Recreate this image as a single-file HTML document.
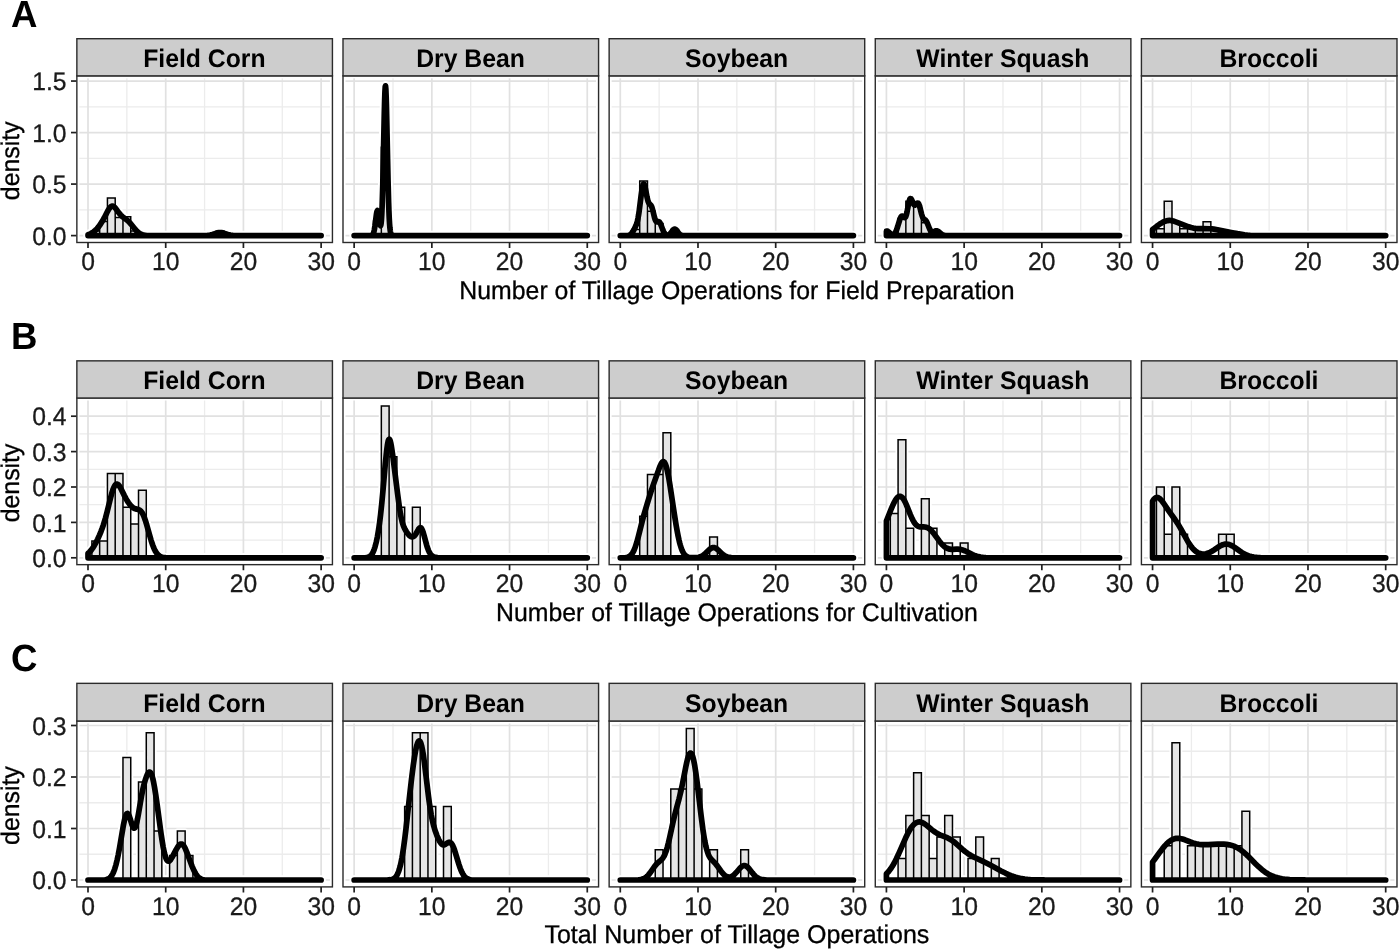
<!DOCTYPE html>
<html lang="en">
<head>
<meta charset="utf-8">
<title>Tillage operations density by crop</title>
<style>
html,body{margin:0;padding:0;background:#fff;}
body{width:1400px;height:950px;overflow:hidden;font-family:'Liberation Sans', Arial, Helvetica, sans-serif;}
svg{display:block;}
</style>
</head>
<body>
<svg width="1400" height="950" viewBox="0 0 1400 950" role="img" aria-label="Density of tillage operations by crop" font-family="'Liberation Sans', Arial, Helvetica, sans-serif" text-rendering="geometricPrecision">
<rect width="1400" height="950" fill="#ffffff"/>
<g id="rowA">
<text transform="translate(11.1 26.8) scale(1 1.035)" font-size="36.6" font-weight="bold" fill="#000">A</text>
<text transform="translate(18.9 160.78) rotate(-90) scale(1 1.025)" text-anchor="middle" font-size="24.85" fill="#000" stroke="#000" stroke-width="0.3">density</text>
<text transform="translate(66.6 244.7) scale(1 1.025)" text-anchor="end" font-size="24.7" fill="#1a1a1a" stroke="#1a1a1a" stroke-width="0.3">0.0</text>
<line x1="71" x2="76.86" y1="235.6" y2="235.6" stroke="#1f1f1f" stroke-width="1.7"/>
<text transform="translate(66.6 193.18) scale(1 1.025)" text-anchor="end" font-size="24.7" fill="#1a1a1a" stroke="#1a1a1a" stroke-width="0.3">0.5</text>
<line x1="71" x2="76.86" y1="184.08" y2="184.08" stroke="#1f1f1f" stroke-width="1.7"/>
<text transform="translate(66.6 141.67) scale(1 1.025)" text-anchor="end" font-size="24.7" fill="#1a1a1a" stroke="#1a1a1a" stroke-width="0.3">1.0</text>
<line x1="71" x2="76.86" y1="132.57" y2="132.57" stroke="#1f1f1f" stroke-width="1.7"/>
<text transform="translate(66.6 90.15) scale(1 1.025)" text-anchor="end" font-size="24.7" fill="#1a1a1a" stroke="#1a1a1a" stroke-width="0.3">1.5</text>
<line x1="71" x2="76.86" y1="81.05" y2="81.05" stroke="#1f1f1f" stroke-width="1.7"/>
<text transform="translate(736.9 298.76) scale(1 1.025)" text-anchor="middle" font-size="24.85" fill="#000" stroke="#000" stroke-width="0.3">Number of Tillage Operations for Field Preparation</text>
<g>
<clipPath id="cp00"><rect x="76.86" y="75.85" width="255.57" height="166.65"/></clipPath>
<rect x="76.86" y="75.85" width="255.57" height="166.65" fill="#fff"/>
<path d="M126.85 75.85V242.5M204.56 75.85V242.5M282.27 75.85V242.5M76.86 209.84H332.43M76.86 158.33H332.43M76.86 106.81H332.43" stroke="#ececec" stroke-width="1.3" fill="none"/>
<path d="M88 75.85V242.5M165.71 75.85V242.5M243.42 75.85V242.5M321.13 75.85V242.5M76.86 235.6H332.43M76.86 184.08H332.43M76.86 132.57H332.43M76.86 81.05H332.43" stroke="#e1e1e1" stroke-width="1.7" fill="none"/>
<rect x="76.86" y="75.85" width="255.57" height="166.65" fill="none" stroke="#fff" stroke-width="5" clip-path="url(#cp00)"/>
<g clip-path="url(#cp00)" fill="none" stroke="#fff" stroke-linejoin="round"><path d="M91.89 235.6V230.92H99.66V235.6ZM99.66 235.6V221.55H107.43V235.6ZM107.43 235.6V197.95H115.2V235.6ZM115.2 235.6V217.47H122.97V235.6ZM122.97 235.6V216.75H130.74V235.6ZM130.74 235.6V230.92H138.51V235.6ZM216.22 235.6V230.92H223.99V235.6Z" stroke-width="5.1"/><path d="M88 235.6L88 234.63L89.55 234.1L90.8 233.54L92.04 232.85L93.28 232.03L94.53 231.06L95.77 229.94L97.01 228.66L98.26 227.22L100.43 224.28L102.3 221.32L104.16 217.94L107.58 211.26L109.14 208.64L110.07 207.43L110.69 206.83L111.31 206.4L111.62 206.26L112.25 206.12L112.87 206.17L113.49 206.41L114.11 206.82L114.73 207.38L115.98 208.84L119.08 213.14L120.64 214.96L122.19 216.42L126.54 219.67L128.72 221.62L130.9 224L135.56 229.72L136.8 231.08L137.73 231.97L139.29 233.21L140.84 234.12L141.78 234.52L142.71 234.82L144.57 235.21L146.13 235.38L148.3 235.5L157.01 235.6L201.15 235.6L204.88 235.52L207.67 235.34L210.16 234.96L212.34 234.41L217.31 232.85L218.86 232.56L220.11 232.48L221.35 232.56L222.9 232.85L227.88 234.41L230.36 235.02L232.85 235.37L235.65 235.53L239.07 235.6L321.13 235.6Z" stroke-width="9.5"/></g>
<path d="M91.89 235.6V230.92H99.66V235.6ZM99.66 235.6V221.55H107.43V235.6ZM107.43 235.6V197.95H115.2V235.6ZM115.2 235.6V217.47H122.97V235.6ZM122.97 235.6V216.75H130.74V235.6ZM130.74 235.6V230.92H138.51V235.6ZM216.22 235.6V230.92H223.99V235.6Z" fill="#e5e5e5" stroke="#000" stroke-width="1.5" stroke-linejoin="miter"/>
<path d="M88 235.6L88 234.63L89.55 234.1L90.8 233.54L92.04 232.85L93.28 232.03L94.53 231.06L95.77 229.94L97.01 228.66L98.26 227.22L100.43 224.28L102.3 221.32L104.16 217.94L107.58 211.26L109.14 208.64L110.07 207.43L110.69 206.83L111.31 206.4L111.62 206.26L112.25 206.12L112.87 206.17L113.49 206.41L114.11 206.82L114.73 207.38L115.98 208.84L119.08 213.14L120.64 214.96L122.19 216.42L126.54 219.67L128.72 221.62L130.9 224L135.56 229.72L136.8 231.08L137.73 231.97L139.29 233.21L140.84 234.12L141.78 234.52L142.71 234.82L144.57 235.21L146.13 235.38L148.3 235.5L157.01 235.6L201.15 235.6L204.88 235.52L207.67 235.34L210.16 234.96L212.34 234.41L217.31 232.85L218.86 232.56L220.11 232.48L221.35 232.56L222.9 232.85L227.88 234.41L230.36 235.02L232.85 235.37L235.65 235.53L239.07 235.6L321.13 235.6Z" fill="none" stroke="#000" stroke-width="5.7" stroke-linejoin="round" stroke-linecap="round"/>
<rect x="76.86" y="75.85" width="255.57" height="166.65" fill="none" stroke="#2b2b2b" stroke-width="1.4"/>
<rect x="76.86" y="38.7" width="255.57" height="37.15" fill="#cdcdcd" stroke="#2b2b2b" stroke-width="1.4"/>
<text transform="translate(204.34 67.1) scale(1 1.025)" text-anchor="middle" font-size="24.75" font-weight="bold" fill="#000">Field Corn</text>
<text transform="translate(88 270.2) scale(1 1.025)" text-anchor="middle" font-size="24.7" fill="#1a1a1a" stroke="#1a1a1a" stroke-width="0.3">0</text>
<text transform="translate(165.71 270.2) scale(1 1.025)" text-anchor="middle" font-size="24.7" fill="#1a1a1a" stroke="#1a1a1a" stroke-width="0.3">10</text>
<text transform="translate(243.42 270.2) scale(1 1.025)" text-anchor="middle" font-size="24.7" fill="#1a1a1a" stroke="#1a1a1a" stroke-width="0.3">20</text>
<text transform="translate(321.13 270.2) scale(1 1.025)" text-anchor="middle" font-size="24.7" fill="#1a1a1a" stroke="#1a1a1a" stroke-width="0.3">30</text>
<path d="M88 242.5V248.1M165.71 242.5V248.1M243.42 242.5V248.1M321.13 242.5V248.1" stroke="#1f1f1f" stroke-width="1.7" fill="none"/>
</g>
<g>
<clipPath id="cp01"><rect x="343" y="75.85" width="255.57" height="166.65"/></clipPath>
<rect x="343" y="75.85" width="255.57" height="166.65" fill="#fff"/>
<path d="M393 75.85V242.5M470.7 75.85V242.5M548.41 75.85V242.5M343 209.84H598.57M343 158.33H598.57M343 106.81H598.57" stroke="#ececec" stroke-width="1.3" fill="none"/>
<path d="M354.14 75.85V242.5M431.85 75.85V242.5M509.56 75.85V242.5M587.27 75.85V242.5M343 235.6H598.57M343 184.08H598.57M343 132.57H598.57M343 81.05H598.57" stroke="#e1e1e1" stroke-width="1.7" fill="none"/>
<rect x="343" y="75.85" width="255.57" height="166.65" fill="none" stroke="#fff" stroke-width="5" clip-path="url(#cp01)"/>
<g clip-path="url(#cp01)" fill="none" stroke="#fff" stroke-linejoin="round"><path d="M373.57 235.6V220.88H381.34V235.6ZM381.34 235.6V147.29H389.11V235.6Z" stroke-width="5.1"/><path d="M354.14 235.6L369.99 235.6L371.55 235.47L372.17 235.22L372.48 234.99L372.79 234.64L373.1 234.14L373.41 233.44L374.03 231.27L374.34 229.73L374.97 225.71L376.52 213.67L376.83 212.02L377.14 210.97L377.45 210.6L377.76 210.95L378.07 211.98L378.39 213.58L379.63 222.39L379.94 224.15L380.25 225.3L380.56 225.61L380.87 224.86L381.18 222.81L381.49 219.21L381.8 213.85L382.12 206.53L382.74 185.77L384.29 113.29L384.6 101.22L384.91 92.18L385.22 86.89L385.53 85.81L385.85 89.03L386.16 96.28L386.47 106.95L388.02 179.67L388.64 202.87L388.95 211.63L389.26 218.55L389.58 223.81L389.89 227.69L390.2 230.44L390.51 232.33L390.82 233.59L391.13 234.4L391.44 234.9L391.75 235.21L392.37 235.48L393.62 235.6L587.27 235.6Z" stroke-width="9.5"/></g>
<path d="M373.57 235.6V220.88H381.34V235.6ZM381.34 235.6V147.29H389.11V235.6Z" fill="#e5e5e5" stroke="#000" stroke-width="1.5" stroke-linejoin="miter"/>
<path d="M354.14 235.6L369.99 235.6L371.55 235.47L372.17 235.22L372.48 234.99L372.79 234.64L373.1 234.14L373.41 233.44L374.03 231.27L374.34 229.73L374.97 225.71L376.52 213.67L376.83 212.02L377.14 210.97L377.45 210.6L377.76 210.95L378.07 211.98L378.39 213.58L379.63 222.39L379.94 224.15L380.25 225.3L380.56 225.61L380.87 224.86L381.18 222.81L381.49 219.21L381.8 213.85L382.12 206.53L382.74 185.77L384.29 113.29L384.6 101.22L384.91 92.18L385.22 86.89L385.53 85.81L385.85 89.03L386.16 96.28L386.47 106.95L388.02 179.67L388.64 202.87L388.95 211.63L389.26 218.55L389.58 223.81L389.89 227.69L390.2 230.44L390.51 232.33L390.82 233.59L391.13 234.4L391.44 234.9L391.75 235.21L392.37 235.48L393.62 235.6L587.27 235.6Z" fill="none" stroke="#000" stroke-width="5.7" stroke-linejoin="round" stroke-linecap="round"/>
<rect x="343" y="75.85" width="255.57" height="166.65" fill="none" stroke="#2b2b2b" stroke-width="1.4"/>
<rect x="343" y="38.7" width="255.57" height="37.15" fill="#cdcdcd" stroke="#2b2b2b" stroke-width="1.4"/>
<text transform="translate(470.48 67.1) scale(1 1.025)" text-anchor="middle" font-size="24.75" font-weight="bold" fill="#000">Dry Bean</text>
<text transform="translate(354.14 270.2) scale(1 1.025)" text-anchor="middle" font-size="24.7" fill="#1a1a1a" stroke="#1a1a1a" stroke-width="0.3">0</text>
<text transform="translate(431.85 270.2) scale(1 1.025)" text-anchor="middle" font-size="24.7" fill="#1a1a1a" stroke="#1a1a1a" stroke-width="0.3">10</text>
<text transform="translate(509.56 270.2) scale(1 1.025)" text-anchor="middle" font-size="24.7" fill="#1a1a1a" stroke="#1a1a1a" stroke-width="0.3">20</text>
<text transform="translate(587.27 270.2) scale(1 1.025)" text-anchor="middle" font-size="24.7" fill="#1a1a1a" stroke="#1a1a1a" stroke-width="0.3">30</text>
<path d="M354.14 242.5V248.1M431.85 242.5V248.1M509.56 242.5V248.1M587.27 242.5V248.1" stroke="#1f1f1f" stroke-width="1.7" fill="none"/>
</g>
<g>
<clipPath id="cp02"><rect x="609.14" y="75.85" width="255.57" height="166.65"/></clipPath>
<rect x="609.14" y="75.85" width="255.57" height="166.65" fill="#fff"/>
<path d="M659.13 75.85V242.5M736.85 75.85V242.5M814.55 75.85V242.5M609.14 209.84H864.71M609.14 158.33H864.71M609.14 106.81H864.71" stroke="#ececec" stroke-width="1.3" fill="none"/>
<path d="M620.28 75.85V242.5M697.99 75.85V242.5M775.7 75.85V242.5M853.41 75.85V242.5M609.14 235.6H864.71M609.14 184.08H864.71M609.14 132.57H864.71M609.14 81.05H864.71" stroke="#e1e1e1" stroke-width="1.7" fill="none"/>
<rect x="609.14" y="75.85" width="255.57" height="166.65" fill="none" stroke="#fff" stroke-width="5" clip-path="url(#cp02)"/>
<g clip-path="url(#cp02)" fill="none" stroke="#fff" stroke-linejoin="round"><path d="M631.94 235.6V229.54H639.71V235.6ZM639.71 235.6V181.05H647.48V235.6ZM647.48 235.6V211.36H655.25V235.6ZM655.25 235.6V223.48H663.02V235.6ZM670.79 235.6V229.54H678.56V235.6Z" stroke-width="5.1"/><path d="M620.28 235.6L625.25 235.6L627.43 235.51L628.67 235.3L629.29 235.1L629.92 234.8L630.54 234.38L631.16 233.82L631.78 233.11L632.4 232.26L633.96 229.68L635.51 226.67L636.13 225.22L636.75 223.46L637.38 221.22L638 218.36L638.62 214.8L639.24 210.55L641.11 195.62L642.04 189.11L642.66 186.03L642.97 184.97L643.28 184.27L643.59 183.94L643.9 183.97L644.21 184.36L644.53 185.07L644.84 186.07L645.46 188.77L647.01 196.99L647.94 200.88L648.26 201.82L648.88 203.16L649.5 203.94L650.74 205.05L651.36 206.04L651.67 206.73L651.99 207.58L652.61 209.69L654.47 217.35L655.09 219.38L655.4 220.17L656.03 221.27L656.34 221.59L656.65 221.77L657.27 221.83L658.2 221.65L658.82 221.7L659.13 221.85L659.45 222.1L659.76 222.46L660.07 222.93L660.69 224.17L662.87 229.96L663.49 231.44L664.11 232.66L664.73 233.62L665.35 234.3L665.97 234.76L666.6 235.02L667.22 235.12L668.15 235.01L668.77 234.76L669.39 234.37L670.01 233.84L670.64 233.16L673.12 229.95L673.74 229.4L674.06 229.22L674.68 229.07L675.3 229.22L675.61 229.4L676.23 229.95L678.72 233.17L679.65 234.14L680.27 234.62L680.89 234.97L681.83 235.3L682.76 235.47L684 235.57L853.41 235.6Z" stroke-width="9.5"/></g>
<path d="M631.94 235.6V229.54H639.71V235.6ZM639.71 235.6V181.05H647.48V235.6ZM647.48 235.6V211.36H655.25V235.6ZM655.25 235.6V223.48H663.02V235.6ZM670.79 235.6V229.54H678.56V235.6Z" fill="#e5e5e5" stroke="#000" stroke-width="1.5" stroke-linejoin="miter"/>
<path d="M620.28 235.6L625.25 235.6L627.43 235.51L628.67 235.3L629.29 235.1L629.92 234.8L630.54 234.38L631.16 233.82L631.78 233.11L632.4 232.26L633.96 229.68L635.51 226.67L636.13 225.22L636.75 223.46L637.38 221.22L638 218.36L638.62 214.8L639.24 210.55L641.11 195.62L642.04 189.11L642.66 186.03L642.97 184.97L643.28 184.27L643.59 183.94L643.9 183.97L644.21 184.36L644.53 185.07L644.84 186.07L645.46 188.77L647.01 196.99L647.94 200.88L648.26 201.82L648.88 203.16L649.5 203.94L650.74 205.05L651.36 206.04L651.67 206.73L651.99 207.58L652.61 209.69L654.47 217.35L655.09 219.38L655.4 220.17L656.03 221.27L656.34 221.59L656.65 221.77L657.27 221.83L658.2 221.65L658.82 221.7L659.13 221.85L659.45 222.1L659.76 222.46L660.07 222.93L660.69 224.17L662.87 229.96L663.49 231.44L664.11 232.66L664.73 233.62L665.35 234.3L665.97 234.76L666.6 235.02L667.22 235.12L668.15 235.01L668.77 234.76L669.39 234.37L670.01 233.84L670.64 233.16L673.12 229.95L673.74 229.4L674.06 229.22L674.68 229.07L675.3 229.22L675.61 229.4L676.23 229.95L678.72 233.17L679.65 234.14L680.27 234.62L680.89 234.97L681.83 235.3L682.76 235.47L684 235.57L853.41 235.6Z" fill="none" stroke="#000" stroke-width="5.7" stroke-linejoin="round" stroke-linecap="round"/>
<rect x="609.14" y="75.85" width="255.57" height="166.65" fill="none" stroke="#2b2b2b" stroke-width="1.4"/>
<rect x="609.14" y="38.7" width="255.57" height="37.15" fill="#cdcdcd" stroke="#2b2b2b" stroke-width="1.4"/>
<text transform="translate(736.62 67.1) scale(1 1.025)" text-anchor="middle" font-size="24.75" font-weight="bold" fill="#000">Soybean</text>
<text transform="translate(620.28 270.2) scale(1 1.025)" text-anchor="middle" font-size="24.7" fill="#1a1a1a" stroke="#1a1a1a" stroke-width="0.3">0</text>
<text transform="translate(697.99 270.2) scale(1 1.025)" text-anchor="middle" font-size="24.7" fill="#1a1a1a" stroke="#1a1a1a" stroke-width="0.3">10</text>
<text transform="translate(775.7 270.2) scale(1 1.025)" text-anchor="middle" font-size="24.7" fill="#1a1a1a" stroke="#1a1a1a" stroke-width="0.3">20</text>
<text transform="translate(853.41 270.2) scale(1 1.025)" text-anchor="middle" font-size="24.7" fill="#1a1a1a" stroke="#1a1a1a" stroke-width="0.3">30</text>
<path d="M620.28 242.5V248.1M697.99 242.5V248.1M775.7 242.5V248.1M853.41 242.5V248.1" stroke="#1f1f1f" stroke-width="1.7" fill="none"/>
</g>
<g>
<clipPath id="cp03"><rect x="875.28" y="75.85" width="255.57" height="166.65"/></clipPath>
<rect x="875.28" y="75.85" width="255.57" height="166.65" fill="#fff"/>
<path d="M925.27 75.85V242.5M1002.98 75.85V242.5M1080.69 75.85V242.5M875.28 209.84H1130.85M875.28 158.33H1130.85M875.28 106.81H1130.85" stroke="#ececec" stroke-width="1.3" fill="none"/>
<path d="M886.42 75.85V242.5M964.13 75.85V242.5M1041.84 75.85V242.5M1119.55 75.85V242.5M875.28 235.6H1130.85M875.28 184.08H1130.85M875.28 132.57H1130.85M875.28 81.05H1130.85" stroke="#e1e1e1" stroke-width="1.7" fill="none"/>
<rect x="875.28" y="75.85" width="255.57" height="166.65" fill="none" stroke="#fff" stroke-width="5" clip-path="url(#cp03)"/>
<g clip-path="url(#cp03)" fill="none" stroke="#fff" stroke-linejoin="round"><path d="M898.08 235.6V218.43H905.85V235.6ZM905.85 235.6V201.26H913.62V235.6ZM913.62 235.6V205.55H921.39V235.6ZM921.39 235.6V222.72H929.16V235.6Z" stroke-width="5.1"/><path d="M886.42 235.6L886.42 231.16L887.04 231.09L887.35 231.15L887.97 231.44L888.6 231.91L890.77 233.97L891.7 234.55L892.33 234.74L892.95 234.75L893.26 234.68L893.88 234.36L894.5 233.79L895.12 232.95L895.75 231.82L896.68 229.56L897.61 226.74L899.79 219.6L900.41 218L901.03 216.82L901.34 216.43L901.65 216.17L901.96 216.04L902.27 216.03L902.58 216.13L902.89 216.33L904.14 217.42L904.45 217.59L904.76 217.64L905.07 217.53L905.38 217.24L905.69 216.73L906.31 215.04L906.94 212.49L908.49 204.26L909.11 201.41L909.73 199.45L910.04 198.88L910.35 198.58L910.67 198.54L910.98 198.74L911.29 199.15L911.6 199.71L912.84 202.62L913.46 203.9L914.08 204.76L914.4 204.99L914.71 205.1L915.02 205.08L915.33 204.95L915.95 204.42L916.88 203.41L917.19 203.15L917.5 203L917.81 202.99L918.13 203.14L918.44 203.47L918.75 203.99L919.37 205.59L919.99 207.79L921.54 214.01L922.17 216.02L922.48 216.83L922.79 217.5L923.41 218.49L924.03 219.1L924.96 219.76L925.59 220.29L926.21 221.05L926.52 221.54L927.45 223.43L929.32 228.18L929.94 229.6L930.56 230.77L931.18 231.6L931.8 232.09L932.11 232.21L932.74 232.24L933.36 232.04L934.91 231.2L935.53 230.93L936.47 230.77L937.09 230.85L937.71 231.07L938.64 231.65L941.13 233.81L942.06 234.5L942.99 235L944.24 235.38L945.48 235.54L947.03 235.6L1119.55 235.6Z" stroke-width="9.5"/></g>
<path d="M898.08 235.6V218.43H905.85V235.6ZM905.85 235.6V201.26H913.62V235.6ZM913.62 235.6V205.55H921.39V235.6ZM921.39 235.6V222.72H929.16V235.6Z" fill="#e5e5e5" stroke="#000" stroke-width="1.5" stroke-linejoin="miter"/>
<path d="M886.42 235.6L886.42 231.16L887.04 231.09L887.35 231.15L887.97 231.44L888.6 231.91L890.77 233.97L891.7 234.55L892.33 234.74L892.95 234.75L893.26 234.68L893.88 234.36L894.5 233.79L895.12 232.95L895.75 231.82L896.68 229.56L897.61 226.74L899.79 219.6L900.41 218L901.03 216.82L901.34 216.43L901.65 216.17L901.96 216.04L902.27 216.03L902.58 216.13L902.89 216.33L904.14 217.42L904.45 217.59L904.76 217.64L905.07 217.53L905.38 217.24L905.69 216.73L906.31 215.04L906.94 212.49L908.49 204.26L909.11 201.41L909.73 199.45L910.04 198.88L910.35 198.58L910.67 198.54L910.98 198.74L911.29 199.15L911.6 199.71L912.84 202.62L913.46 203.9L914.08 204.76L914.4 204.99L914.71 205.1L915.02 205.08L915.33 204.95L915.95 204.42L916.88 203.41L917.19 203.15L917.5 203L917.81 202.99L918.13 203.14L918.44 203.47L918.75 203.99L919.37 205.59L919.99 207.79L921.54 214.01L922.17 216.02L922.48 216.83L922.79 217.5L923.41 218.49L924.03 219.1L924.96 219.76L925.59 220.29L926.21 221.05L926.52 221.54L927.45 223.43L929.32 228.18L929.94 229.6L930.56 230.77L931.18 231.6L931.8 232.09L932.11 232.21L932.74 232.24L933.36 232.04L934.91 231.2L935.53 230.93L936.47 230.77L937.09 230.85L937.71 231.07L938.64 231.65L941.13 233.81L942.06 234.5L942.99 235L944.24 235.38L945.48 235.54L947.03 235.6L1119.55 235.6Z" fill="none" stroke="#000" stroke-width="5.7" stroke-linejoin="round" stroke-linecap="round"/>
<rect x="875.28" y="75.85" width="255.57" height="166.65" fill="none" stroke="#2b2b2b" stroke-width="1.4"/>
<rect x="875.28" y="38.7" width="255.57" height="37.15" fill="#cdcdcd" stroke="#2b2b2b" stroke-width="1.4"/>
<text transform="translate(1002.76 67.1) scale(1 1.025)" text-anchor="middle" font-size="24.75" font-weight="bold" fill="#000">Winter Squash</text>
<text transform="translate(886.42 270.2) scale(1 1.025)" text-anchor="middle" font-size="24.7" fill="#1a1a1a" stroke="#1a1a1a" stroke-width="0.3">0</text>
<text transform="translate(964.13 270.2) scale(1 1.025)" text-anchor="middle" font-size="24.7" fill="#1a1a1a" stroke="#1a1a1a" stroke-width="0.3">10</text>
<text transform="translate(1041.84 270.2) scale(1 1.025)" text-anchor="middle" font-size="24.7" fill="#1a1a1a" stroke="#1a1a1a" stroke-width="0.3">20</text>
<text transform="translate(1119.55 270.2) scale(1 1.025)" text-anchor="middle" font-size="24.7" fill="#1a1a1a" stroke="#1a1a1a" stroke-width="0.3">30</text>
<path d="M886.42 242.5V248.1M964.13 242.5V248.1M1041.84 242.5V248.1M1119.55 242.5V248.1" stroke="#1f1f1f" stroke-width="1.7" fill="none"/>
</g>
<g>
<clipPath id="cp04"><rect x="1141.42" y="75.85" width="255.57" height="166.65"/></clipPath>
<rect x="1141.42" y="75.85" width="255.57" height="166.65" fill="#fff"/>
<path d="M1191.41 75.85V242.5M1269.12 75.85V242.5M1346.84 75.85V242.5M1141.42 209.84H1396.99M1141.42 158.33H1396.99M1141.42 106.81H1396.99" stroke="#ececec" stroke-width="1.3" fill="none"/>
<path d="M1152.56 75.85V242.5M1230.27 75.85V242.5M1307.98 75.85V242.5M1385.69 75.85V242.5M1141.42 235.6H1396.99M1141.42 184.08H1396.99M1141.42 132.57H1396.99M1141.42 81.05H1396.99" stroke="#e1e1e1" stroke-width="1.7" fill="none"/>
<rect x="1141.42" y="75.85" width="255.57" height="166.65" fill="none" stroke="#fff" stroke-width="5" clip-path="url(#cp04)"/>
<g clip-path="url(#cp04)" fill="none" stroke="#fff" stroke-linejoin="round"><path d="M1156.45 235.6V228.73H1164.22V235.6ZM1164.22 235.6V201.26H1171.99V235.6ZM1171.99 235.6V221.86H1179.76V235.6ZM1179.76 235.6V228.73H1187.53V235.6ZM1187.53 235.6V228.73H1195.3V235.6ZM1195.3 235.6V228.73H1203.07V235.6ZM1203.07 235.6V221.86H1210.84V235.6ZM1210.84 235.6V228.73H1218.61V235.6Z" stroke-width="5.1"/><path d="M1152.56 235.6L1152.56 229.56L1156.6 226.37L1158.47 224.98L1160.33 223.7L1162.2 222.59L1164.06 221.67L1165.93 220.98L1167.79 220.56L1169.35 220.44L1170.28 220.47L1171.52 220.62L1172.76 220.88L1174.32 221.33L1177.74 222.56L1188.62 226.8L1191.1 227.58L1193.28 228.06L1195.46 228.37L1197.94 228.56L1201.98 228.68L1209.75 228.77L1211.93 228.89L1213.8 229.09L1217.53 229.7L1232.45 232.73L1237.42 233.65L1244.57 234.73L1247.37 235.05L1250.16 235.29L1254.83 235.51L1261.35 235.6L1385.69 235.6Z" stroke-width="9.5"/></g>
<path d="M1156.45 235.6V228.73H1164.22V235.6ZM1164.22 235.6V201.26H1171.99V235.6ZM1171.99 235.6V221.86H1179.76V235.6ZM1179.76 235.6V228.73H1187.53V235.6ZM1187.53 235.6V228.73H1195.3V235.6ZM1195.3 235.6V228.73H1203.07V235.6ZM1203.07 235.6V221.86H1210.84V235.6ZM1210.84 235.6V228.73H1218.61V235.6Z" fill="#e5e5e5" stroke="#000" stroke-width="1.5" stroke-linejoin="miter"/>
<path d="M1152.56 235.6L1152.56 229.56L1156.6 226.37L1158.47 224.98L1160.33 223.7L1162.2 222.59L1164.06 221.67L1165.93 220.98L1167.79 220.56L1169.35 220.44L1170.28 220.47L1171.52 220.62L1172.76 220.88L1174.32 221.33L1177.74 222.56L1188.62 226.8L1191.1 227.58L1193.28 228.06L1195.46 228.37L1197.94 228.56L1201.98 228.68L1209.75 228.77L1211.93 228.89L1213.8 229.09L1217.53 229.7L1232.45 232.73L1237.42 233.65L1244.57 234.73L1247.37 235.05L1250.16 235.29L1254.83 235.51L1261.35 235.6L1385.69 235.6Z" fill="none" stroke="#000" stroke-width="5.7" stroke-linejoin="round" stroke-linecap="round"/>
<rect x="1141.42" y="75.85" width="255.57" height="166.65" fill="none" stroke="#2b2b2b" stroke-width="1.4"/>
<rect x="1141.42" y="38.7" width="255.57" height="37.15" fill="#cdcdcd" stroke="#2b2b2b" stroke-width="1.4"/>
<text transform="translate(1268.9 67.1) scale(1 1.025)" text-anchor="middle" font-size="24.75" font-weight="bold" fill="#000">Broccoli</text>
<text transform="translate(1152.56 270.2) scale(1 1.025)" text-anchor="middle" font-size="24.7" fill="#1a1a1a" stroke="#1a1a1a" stroke-width="0.3">0</text>
<text transform="translate(1230.27 270.2) scale(1 1.025)" text-anchor="middle" font-size="24.7" fill="#1a1a1a" stroke="#1a1a1a" stroke-width="0.3">10</text>
<text transform="translate(1307.98 270.2) scale(1 1.025)" text-anchor="middle" font-size="24.7" fill="#1a1a1a" stroke="#1a1a1a" stroke-width="0.3">20</text>
<text transform="translate(1385.69 270.2) scale(1 1.025)" text-anchor="middle" font-size="24.7" fill="#1a1a1a" stroke="#1a1a1a" stroke-width="0.3">30</text>
<path d="M1152.56 242.5V248.1M1230.27 242.5V248.1M1307.98 242.5V248.1M1385.69 242.5V248.1" stroke="#1f1f1f" stroke-width="1.7" fill="none"/>
</g>
</g>
<g id="rowB">
<text transform="translate(11.1 348.95) scale(1 1.035)" font-size="36.6" font-weight="bold" fill="#000">B</text>
<text transform="translate(18.9 482.93) rotate(-90) scale(1 1.025)" text-anchor="middle" font-size="24.85" fill="#000" stroke="#000" stroke-width="0.3">density</text>
<text transform="translate(66.6 566.9) scale(1 1.025)" text-anchor="end" font-size="24.7" fill="#1a1a1a" stroke="#1a1a1a" stroke-width="0.3">0.0</text>
<line x1="71" x2="76.86" y1="557.8" y2="557.8" stroke="#1f1f1f" stroke-width="1.7"/>
<text transform="translate(66.6 531.5) scale(1 1.025)" text-anchor="end" font-size="24.7" fill="#1a1a1a" stroke="#1a1a1a" stroke-width="0.3">0.1</text>
<line x1="71" x2="76.86" y1="522.4" y2="522.4" stroke="#1f1f1f" stroke-width="1.7"/>
<text transform="translate(66.6 496.1) scale(1 1.025)" text-anchor="end" font-size="24.7" fill="#1a1a1a" stroke="#1a1a1a" stroke-width="0.3">0.2</text>
<line x1="71" x2="76.86" y1="487" y2="487" stroke="#1f1f1f" stroke-width="1.7"/>
<text transform="translate(66.6 460.7) scale(1 1.025)" text-anchor="end" font-size="24.7" fill="#1a1a1a" stroke="#1a1a1a" stroke-width="0.3">0.3</text>
<line x1="71" x2="76.86" y1="451.6" y2="451.6" stroke="#1f1f1f" stroke-width="1.7"/>
<text transform="translate(66.6 425.3) scale(1 1.025)" text-anchor="end" font-size="24.7" fill="#1a1a1a" stroke="#1a1a1a" stroke-width="0.3">0.4</text>
<line x1="71" x2="76.86" y1="416.2" y2="416.2" stroke="#1f1f1f" stroke-width="1.7"/>
<text transform="translate(736.9 620.91) scale(1 1.025)" text-anchor="middle" font-size="24.85" fill="#000" stroke="#000" stroke-width="0.3">Number of Tillage Operations for Cultivation</text>
<g>
<clipPath id="cp10"><rect x="76.86" y="398" width="255.57" height="166.65"/></clipPath>
<rect x="76.86" y="398" width="255.57" height="166.65" fill="#fff"/>
<path d="M126.85 398V564.65M204.56 398V564.65M282.27 398V564.65M76.86 540.1H332.43M76.86 504.7H332.43M76.86 469.3H332.43M76.86 433.9H332.43" stroke="#ececec" stroke-width="1.3" fill="none"/>
<path d="M88 398V564.65M165.71 398V564.65M243.42 398V564.65M321.13 398V564.65M76.86 557.8H332.43M76.86 522.4H332.43M76.86 487H332.43M76.86 451.6H332.43M76.86 416.2H332.43" stroke="#e1e1e1" stroke-width="1.7" fill="none"/>
<rect x="76.86" y="398" width="255.57" height="166.65" fill="none" stroke="#fff" stroke-width="5" clip-path="url(#cp10)"/>
<g clip-path="url(#cp10)" fill="none" stroke="#fff" stroke-linejoin="round"><path d="M91.89 557.8V540.94H99.66V557.8ZM99.66 557.8V540.94H107.43V557.8ZM107.43 557.8V473.51H115.2V557.8ZM115.2 557.8V473.51H122.97V557.8ZM122.97 557.8V507.23H130.74V557.8ZM130.74 557.8V524.09H138.51V557.8ZM138.51 557.8V490.37H146.28V557.8Z" stroke-width="5.1"/><path d="M88 557.8L88 553.41L89.55 552.01L91.11 550.27L92.66 548.17L94.22 545.72L95.77 542.93L97.64 539.21L99.5 535.1L101.06 531.33L102.3 528.03L103.23 525.35L104.47 521.44L105.41 518.24L107.27 511.2L110.69 497.36L111.62 493.91L112.56 490.83L113.18 489.04L113.8 487.5L114.73 485.69L115.35 484.85L115.66 484.54L116.29 484.14L116.91 484.03L117.53 484.18L118.15 484.58L118.77 485.21L119.71 486.5L120.95 488.68L124.37 495.62L126.23 499.11L127.48 501.18L128.41 502.6L129.65 504.3L130.59 505.42L131.52 506.41L132.45 507.24L133.07 507.7L134 508.26L134.63 508.55L135.56 508.88L138.36 509.57L139.6 510.13L140.22 510.57L140.84 511.14L141.46 511.86L142.09 512.75L143.02 514.43L143.64 515.78L144.26 517.31L145.19 519.92L146.75 524.95L149.86 536.08L151.1 540.31L152.65 545L153.9 548.17L154.52 549.54L155.45 551.33L156.38 552.83L157.32 554.04L158.25 555.01L159.18 555.76L160.11 556.34L161.36 556.89L162.6 557.25L164.16 557.52L165.71 557.66L168.51 557.8L321.13 557.8Z" stroke-width="9.5"/></g>
<path d="M91.89 557.8V540.94H99.66V557.8ZM99.66 557.8V540.94H107.43V557.8ZM107.43 557.8V473.51H115.2V557.8ZM115.2 557.8V473.51H122.97V557.8ZM122.97 557.8V507.23H130.74V557.8ZM130.74 557.8V524.09H138.51V557.8ZM138.51 557.8V490.37H146.28V557.8Z" fill="#e5e5e5" stroke="#000" stroke-width="1.5" stroke-linejoin="miter"/>
<path d="M88 557.8L88 553.41L89.55 552.01L91.11 550.27L92.66 548.17L94.22 545.72L95.77 542.93L97.64 539.21L99.5 535.1L101.06 531.33L102.3 528.03L103.23 525.35L104.47 521.44L105.41 518.24L107.27 511.2L110.69 497.36L111.62 493.91L112.56 490.83L113.18 489.04L113.8 487.5L114.73 485.69L115.35 484.85L115.66 484.54L116.29 484.14L116.91 484.03L117.53 484.18L118.15 484.58L118.77 485.21L119.71 486.5L120.95 488.68L124.37 495.62L126.23 499.11L127.48 501.18L128.41 502.6L129.65 504.3L130.59 505.42L131.52 506.41L132.45 507.24L133.07 507.7L134 508.26L134.63 508.55L135.56 508.88L138.36 509.57L139.6 510.13L140.22 510.57L140.84 511.14L141.46 511.86L142.09 512.75L143.02 514.43L143.64 515.78L144.26 517.31L145.19 519.92L146.75 524.95L149.86 536.08L151.1 540.31L152.65 545L153.9 548.17L154.52 549.54L155.45 551.33L156.38 552.83L157.32 554.04L158.25 555.01L159.18 555.76L160.11 556.34L161.36 556.89L162.6 557.25L164.16 557.52L165.71 557.66L168.51 557.8L321.13 557.8Z" fill="none" stroke="#000" stroke-width="5.7" stroke-linejoin="round" stroke-linecap="round"/>
<rect x="76.86" y="398" width="255.57" height="166.65" fill="none" stroke="#2b2b2b" stroke-width="1.4"/>
<rect x="76.86" y="360.85" width="255.57" height="37.15" fill="#cdcdcd" stroke="#2b2b2b" stroke-width="1.4"/>
<text transform="translate(204.34 389.25) scale(1 1.025)" text-anchor="middle" font-size="24.75" font-weight="bold" fill="#000">Field Corn</text>
<text transform="translate(88 592.35) scale(1 1.025)" text-anchor="middle" font-size="24.7" fill="#1a1a1a" stroke="#1a1a1a" stroke-width="0.3">0</text>
<text transform="translate(165.71 592.35) scale(1 1.025)" text-anchor="middle" font-size="24.7" fill="#1a1a1a" stroke="#1a1a1a" stroke-width="0.3">10</text>
<text transform="translate(243.42 592.35) scale(1 1.025)" text-anchor="middle" font-size="24.7" fill="#1a1a1a" stroke="#1a1a1a" stroke-width="0.3">20</text>
<text transform="translate(321.13 592.35) scale(1 1.025)" text-anchor="middle" font-size="24.7" fill="#1a1a1a" stroke="#1a1a1a" stroke-width="0.3">30</text>
<path d="M88 564.65V570.25M165.71 564.65V570.25M243.42 564.65V570.25M321.13 564.65V570.25" stroke="#1f1f1f" stroke-width="1.7" fill="none"/>
</g>
<g>
<clipPath id="cp11"><rect x="343" y="398" width="255.57" height="166.65"/></clipPath>
<rect x="343" y="398" width="255.57" height="166.65" fill="#fff"/>
<path d="M393 398V564.65M470.7 398V564.65M548.41 398V564.65M343 540.1H598.57M343 504.7H598.57M343 469.3H598.57M343 433.9H598.57" stroke="#ececec" stroke-width="1.3" fill="none"/>
<path d="M354.14 398V564.65M431.85 398V564.65M509.56 398V564.65M587.27 398V564.65M343 557.8H598.57M343 522.4H598.57M343 487H598.57M343 451.6H598.57M343 416.2H598.57" stroke="#e1e1e1" stroke-width="1.7" fill="none"/>
<rect x="343" y="398" width="255.57" height="166.65" fill="none" stroke="#fff" stroke-width="5" clip-path="url(#cp11)"/>
<g clip-path="url(#cp11)" fill="none" stroke="#fff" stroke-linejoin="round"><path d="M381.34 557.8V406.09H389.11V557.8ZM389.11 557.8V456.66H396.88V557.8ZM396.88 557.8V507.23H404.65V557.8ZM412.42 557.8V507.23H420.19V557.8Z" stroke-width="5.1"/><path d="M354.14 557.8L364.09 557.8L365.95 557.67L367.2 557.5L368.13 557.27L369.06 556.89L369.99 556.31L370.61 555.78L371.55 554.71L372.17 553.8L373.1 552.06L373.72 550.63L374.34 548.97L374.97 547.06L376.21 542.39L377.45 536.46L378.7 529.08L379.63 522.47L380.56 514.85L381.8 503.09L383.05 489.7L385.22 464.72L386.47 452.16L387.4 445.01L388.02 441.73L388.33 440.58L388.64 439.77L388.95 439.31L389.26 439.19L389.58 439.4L389.89 439.92L390.2 440.75L390.82 443.2L391.44 446.56L392.06 450.59L393 457.44L397.66 494.34L399.52 508.03L400.46 513.84L401.39 518.68L402.32 522.49L403.25 525.4L404.19 527.63L405.12 529.45L406.36 531.53L407.92 533.81L408.85 534.95L409.78 535.85L410.71 536.48L411.65 536.81L412.58 536.83L413.2 536.65L414.13 536.08L414.75 535.48L415.38 534.69L416 533.75L418.48 529.29L419.11 528.42L419.42 528.09L420.04 527.69L420.35 527.64L420.66 527.7L420.97 527.87L421.28 528.16L421.59 528.57L422.21 529.73L423.15 532.24L424.08 535.44L426.57 544.81L427.5 547.83L428.43 550.35L429.36 552.35L430.3 553.87L430.92 554.66L431.54 555.3L432.78 556.25L433.4 556.59L434.34 556.97L435.89 557.39L437.45 557.61L440.24 557.8L587.27 557.8Z" stroke-width="9.5"/></g>
<path d="M381.34 557.8V406.09H389.11V557.8ZM389.11 557.8V456.66H396.88V557.8ZM396.88 557.8V507.23H404.65V557.8ZM412.42 557.8V507.23H420.19V557.8Z" fill="#e5e5e5" stroke="#000" stroke-width="1.5" stroke-linejoin="miter"/>
<path d="M354.14 557.8L364.09 557.8L365.95 557.67L367.2 557.5L368.13 557.27L369.06 556.89L369.99 556.31L370.61 555.78L371.55 554.71L372.17 553.8L373.1 552.06L373.72 550.63L374.34 548.97L374.97 547.06L376.21 542.39L377.45 536.46L378.7 529.08L379.63 522.47L380.56 514.85L381.8 503.09L383.05 489.7L385.22 464.72L386.47 452.16L387.4 445.01L388.02 441.73L388.33 440.58L388.64 439.77L388.95 439.31L389.26 439.19L389.58 439.4L389.89 439.92L390.2 440.75L390.82 443.2L391.44 446.56L392.06 450.59L393 457.44L397.66 494.34L399.52 508.03L400.46 513.84L401.39 518.68L402.32 522.49L403.25 525.4L404.19 527.63L405.12 529.45L406.36 531.53L407.92 533.81L408.85 534.95L409.78 535.85L410.71 536.48L411.65 536.81L412.58 536.83L413.2 536.65L414.13 536.08L414.75 535.48L415.38 534.69L416 533.75L418.48 529.29L419.11 528.42L419.42 528.09L420.04 527.69L420.35 527.64L420.66 527.7L420.97 527.87L421.28 528.16L421.59 528.57L422.21 529.73L423.15 532.24L424.08 535.44L426.57 544.81L427.5 547.83L428.43 550.35L429.36 552.35L430.3 553.87L430.92 554.66L431.54 555.3L432.78 556.25L433.4 556.59L434.34 556.97L435.89 557.39L437.45 557.61L440.24 557.8L587.27 557.8Z" fill="none" stroke="#000" stroke-width="5.7" stroke-linejoin="round" stroke-linecap="round"/>
<rect x="343" y="398" width="255.57" height="166.65" fill="none" stroke="#2b2b2b" stroke-width="1.4"/>
<rect x="343" y="360.85" width="255.57" height="37.15" fill="#cdcdcd" stroke="#2b2b2b" stroke-width="1.4"/>
<text transform="translate(470.48 389.25) scale(1 1.025)" text-anchor="middle" font-size="24.75" font-weight="bold" fill="#000">Dry Bean</text>
<text transform="translate(354.14 592.35) scale(1 1.025)" text-anchor="middle" font-size="24.7" fill="#1a1a1a" stroke="#1a1a1a" stroke-width="0.3">0</text>
<text transform="translate(431.85 592.35) scale(1 1.025)" text-anchor="middle" font-size="24.7" fill="#1a1a1a" stroke="#1a1a1a" stroke-width="0.3">10</text>
<text transform="translate(509.56 592.35) scale(1 1.025)" text-anchor="middle" font-size="24.7" fill="#1a1a1a" stroke="#1a1a1a" stroke-width="0.3">20</text>
<text transform="translate(587.27 592.35) scale(1 1.025)" text-anchor="middle" font-size="24.7" fill="#1a1a1a" stroke="#1a1a1a" stroke-width="0.3">30</text>
<path d="M354.14 564.65V570.25M431.85 564.65V570.25M509.56 564.65V570.25M587.27 564.65V570.25" stroke="#1f1f1f" stroke-width="1.7" fill="none"/>
</g>
<g>
<clipPath id="cp12"><rect x="609.14" y="398" width="255.57" height="166.65"/></clipPath>
<rect x="609.14" y="398" width="255.57" height="166.65" fill="#fff"/>
<path d="M659.13 398V564.65M736.85 398V564.65M814.55 398V564.65M609.14 540.1H864.71M609.14 504.7H864.71M609.14 469.3H864.71M609.14 433.9H864.71" stroke="#ececec" stroke-width="1.3" fill="none"/>
<path d="M620.28 398V564.65M697.99 398V564.65M775.7 398V564.65M853.41 398V564.65M609.14 557.8H864.71M609.14 522.4H864.71M609.14 487H864.71M609.14 451.6H864.71M609.14 416.2H864.71" stroke="#e1e1e1" stroke-width="1.7" fill="none"/>
<rect x="609.14" y="398" width="255.57" height="166.65" fill="none" stroke="#fff" stroke-width="5" clip-path="url(#cp12)"/>
<g clip-path="url(#cp12)" fill="none" stroke="#fff" stroke-linejoin="round"><path d="M639.71 557.8V516.15H647.48V557.8ZM647.48 557.8V474.51H655.25V557.8ZM655.25 557.8V474.51H663.02V557.8ZM663.02 557.8V432.86H670.79V557.8ZM709.65 557.8V536.98H717.42V557.8Z" stroke-width="5.1"/><path d="M620.28 557.8L622.46 557.8L625.88 557.54L627.43 557.23L628.36 556.91L628.98 556.62L629.92 556.04L630.54 555.53L631.16 554.91L631.78 554.17L632.4 553.28L633.02 552.24L633.96 550.36L635.2 547.25L636.75 542.43L638.31 536.75L642.35 520.73L644.21 513.87L647.63 502.34L651.36 490.46L653.54 484.12L658.82 469.39L660.07 466.13L661 464.05L661.62 462.95L662.24 462.15L662.55 461.87L662.87 461.68L663.18 461.59L663.49 461.61L663.8 461.73L664.11 461.95L664.42 462.29L664.73 462.75L665.35 463.99L665.97 465.67L666.6 467.79L667.22 470.3L667.84 473.18L668.77 478.08L670.01 485.46L674.37 514.25L676.23 525.85L677.16 531.1L678.1 535.89L679.03 540.16L679.65 542.7L680.27 545L681.2 547.98L682.14 550.43L683.07 552.39L684 553.93L684.93 555.09L685.87 555.95L687.11 556.73L688.35 557.2L689.6 557.48L691.15 557.65L693.02 557.72L695.19 557.67L697.06 557.52L698.61 557.26L700.17 556.83L701.1 556.46L702.03 556L702.96 555.43L703.9 554.76L705.76 553.14L709.18 549.78L710.73 548.54L711.67 548L712.29 547.75L712.91 547.6L713.53 547.55L714.15 547.6L715.09 547.87L715.71 548.16L716.64 548.76L718.19 550.07L722.24 553.99L723.48 554.99L724.72 555.81L725.97 556.45L727.52 557.02L729.38 557.43L731.25 557.64L734.36 557.8L853.41 557.8Z" stroke-width="9.5"/></g>
<path d="M639.71 557.8V516.15H647.48V557.8ZM647.48 557.8V474.51H655.25V557.8ZM655.25 557.8V474.51H663.02V557.8ZM663.02 557.8V432.86H670.79V557.8ZM709.65 557.8V536.98H717.42V557.8Z" fill="#e5e5e5" stroke="#000" stroke-width="1.5" stroke-linejoin="miter"/>
<path d="M620.28 557.8L622.46 557.8L625.88 557.54L627.43 557.23L628.36 556.91L628.98 556.62L629.92 556.04L630.54 555.53L631.16 554.91L631.78 554.17L632.4 553.28L633.02 552.24L633.96 550.36L635.2 547.25L636.75 542.43L638.31 536.75L642.35 520.73L644.21 513.87L647.63 502.34L651.36 490.46L653.54 484.12L658.82 469.39L660.07 466.13L661 464.05L661.62 462.95L662.24 462.15L662.55 461.87L662.87 461.68L663.18 461.59L663.49 461.61L663.8 461.73L664.11 461.95L664.42 462.29L664.73 462.75L665.35 463.99L665.97 465.67L666.6 467.79L667.22 470.3L667.84 473.18L668.77 478.08L670.01 485.46L674.37 514.25L676.23 525.85L677.16 531.1L678.1 535.89L679.03 540.16L679.65 542.7L680.27 545L681.2 547.98L682.14 550.43L683.07 552.39L684 553.93L684.93 555.09L685.87 555.95L687.11 556.73L688.35 557.2L689.6 557.48L691.15 557.65L693.02 557.72L695.19 557.67L697.06 557.52L698.61 557.26L700.17 556.83L701.1 556.46L702.03 556L702.96 555.43L703.9 554.76L705.76 553.14L709.18 549.78L710.73 548.54L711.67 548L712.29 547.75L712.91 547.6L713.53 547.55L714.15 547.6L715.09 547.87L715.71 548.16L716.64 548.76L718.19 550.07L722.24 553.99L723.48 554.99L724.72 555.81L725.97 556.45L727.52 557.02L729.38 557.43L731.25 557.64L734.36 557.8L853.41 557.8Z" fill="none" stroke="#000" stroke-width="5.7" stroke-linejoin="round" stroke-linecap="round"/>
<rect x="609.14" y="398" width="255.57" height="166.65" fill="none" stroke="#2b2b2b" stroke-width="1.4"/>
<rect x="609.14" y="360.85" width="255.57" height="37.15" fill="#cdcdcd" stroke="#2b2b2b" stroke-width="1.4"/>
<text transform="translate(736.62 389.25) scale(1 1.025)" text-anchor="middle" font-size="24.75" font-weight="bold" fill="#000">Soybean</text>
<text transform="translate(620.28 592.35) scale(1 1.025)" text-anchor="middle" font-size="24.7" fill="#1a1a1a" stroke="#1a1a1a" stroke-width="0.3">0</text>
<text transform="translate(697.99 592.35) scale(1 1.025)" text-anchor="middle" font-size="24.7" fill="#1a1a1a" stroke="#1a1a1a" stroke-width="0.3">10</text>
<text transform="translate(775.7 592.35) scale(1 1.025)" text-anchor="middle" font-size="24.7" fill="#1a1a1a" stroke="#1a1a1a" stroke-width="0.3">20</text>
<text transform="translate(853.41 592.35) scale(1 1.025)" text-anchor="middle" font-size="24.7" fill="#1a1a1a" stroke="#1a1a1a" stroke-width="0.3">30</text>
<path d="M620.28 564.65V570.25M697.99 564.65V570.25M775.7 564.65V570.25M853.41 564.65V570.25" stroke="#1f1f1f" stroke-width="1.7" fill="none"/>
</g>
<g>
<clipPath id="cp13"><rect x="875.28" y="398" width="255.57" height="166.65"/></clipPath>
<rect x="875.28" y="398" width="255.57" height="166.65" fill="#fff"/>
<path d="M925.27 398V564.65M1002.98 398V564.65M1080.69 398V564.65M875.28 540.1H1130.85M875.28 504.7H1130.85M875.28 469.3H1130.85M875.28 433.9H1130.85" stroke="#ececec" stroke-width="1.3" fill="none"/>
<path d="M886.42 398V564.65M964.13 398V564.65M1041.84 398V564.65M1119.55 398V564.65M875.28 557.8H1130.85M875.28 522.4H1130.85M875.28 487H1130.85M875.28 451.6H1130.85M875.28 416.2H1130.85" stroke="#e1e1e1" stroke-width="1.7" fill="none"/>
<rect x="875.28" y="398" width="255.57" height="166.65" fill="none" stroke="#fff" stroke-width="5" clip-path="url(#cp13)"/>
<g clip-path="url(#cp13)" fill="none" stroke="#fff" stroke-linejoin="round"><path d="M890.31 557.8V513.55H898.08V557.8ZM898.08 557.8V439.8H905.85V557.8ZM905.85 557.8V528.3H913.62V557.8ZM921.39 557.8V498.8H929.16V557.8ZM929.16 557.8V528.3H936.93V557.8ZM944.7 557.8V543.05H952.47V557.8ZM960.24 557.8V543.05H968.02V557.8Z" stroke-width="5.1"/><path d="M886.42 557.8L886.42 520.95L891.39 508.52L892.95 504.96L894.5 501.79L895.43 500.15L896.06 499.19L896.68 498.34L897.3 497.63L897.92 497.06L898.54 496.64L899.16 496.38L899.79 496.27L900.41 496.34L900.72 496.43L901.34 496.75L901.96 497.23L902.89 498.25L904.14 500.14L905.07 501.9L906.31 504.61L910.35 514.6L912.22 518.83L913.15 520.66L914.08 522.25L915.02 523.6L915.95 524.7L916.57 525.29L917.5 525.99L918.13 526.33L919.06 526.69L919.68 526.83L920.61 526.95L924.34 526.96L925.9 527.16L926.83 527.42L927.76 527.81L929.32 528.76L930.25 529.52L931.18 530.41L933.05 532.53L934.6 534.56L939.57 541.44L941.13 543.37L942.37 544.75L943.93 546.23L945.48 547.42L947.03 548.29L948.59 548.88L949.83 549.17L951.39 549.34L952.94 549.36L956.36 549.21L957.91 549.21L959.78 549.35L961.33 549.63L962.89 550.06L964.75 550.77L966.62 551.62L972.52 554.59L974.39 555.38L976.25 556.05L978.43 556.66L980.6 557.09L983.09 557.41L985.89 557.62L991.17 557.8L1119.55 557.8Z" stroke-width="9.5"/></g>
<path d="M890.31 557.8V513.55H898.08V557.8ZM898.08 557.8V439.8H905.85V557.8ZM905.85 557.8V528.3H913.62V557.8ZM921.39 557.8V498.8H929.16V557.8ZM929.16 557.8V528.3H936.93V557.8ZM944.7 557.8V543.05H952.47V557.8ZM960.24 557.8V543.05H968.02V557.8Z" fill="#e5e5e5" stroke="#000" stroke-width="1.5" stroke-linejoin="miter"/>
<path d="M886.42 557.8L886.42 520.95L891.39 508.52L892.95 504.96L894.5 501.79L895.43 500.15L896.06 499.19L896.68 498.34L897.3 497.63L897.92 497.06L898.54 496.64L899.16 496.38L899.79 496.27L900.41 496.34L900.72 496.43L901.34 496.75L901.96 497.23L902.89 498.25L904.14 500.14L905.07 501.9L906.31 504.61L910.35 514.6L912.22 518.83L913.15 520.66L914.08 522.25L915.02 523.6L915.95 524.7L916.57 525.29L917.5 525.99L918.13 526.33L919.06 526.69L919.68 526.83L920.61 526.95L924.34 526.96L925.9 527.16L926.83 527.42L927.76 527.81L929.32 528.76L930.25 529.52L931.18 530.41L933.05 532.53L934.6 534.56L939.57 541.44L941.13 543.37L942.37 544.75L943.93 546.23L945.48 547.42L947.03 548.29L948.59 548.88L949.83 549.17L951.39 549.34L952.94 549.36L956.36 549.21L957.91 549.21L959.78 549.35L961.33 549.63L962.89 550.06L964.75 550.77L966.62 551.62L972.52 554.59L974.39 555.38L976.25 556.05L978.43 556.66L980.6 557.09L983.09 557.41L985.89 557.62L991.17 557.8L1119.55 557.8Z" fill="none" stroke="#000" stroke-width="5.7" stroke-linejoin="round" stroke-linecap="round"/>
<rect x="875.28" y="398" width="255.57" height="166.65" fill="none" stroke="#2b2b2b" stroke-width="1.4"/>
<rect x="875.28" y="360.85" width="255.57" height="37.15" fill="#cdcdcd" stroke="#2b2b2b" stroke-width="1.4"/>
<text transform="translate(1002.76 389.25) scale(1 1.025)" text-anchor="middle" font-size="24.75" font-weight="bold" fill="#000">Winter Squash</text>
<text transform="translate(886.42 592.35) scale(1 1.025)" text-anchor="middle" font-size="24.7" fill="#1a1a1a" stroke="#1a1a1a" stroke-width="0.3">0</text>
<text transform="translate(964.13 592.35) scale(1 1.025)" text-anchor="middle" font-size="24.7" fill="#1a1a1a" stroke="#1a1a1a" stroke-width="0.3">10</text>
<text transform="translate(1041.84 592.35) scale(1 1.025)" text-anchor="middle" font-size="24.7" fill="#1a1a1a" stroke="#1a1a1a" stroke-width="0.3">20</text>
<text transform="translate(1119.55 592.35) scale(1 1.025)" text-anchor="middle" font-size="24.7" fill="#1a1a1a" stroke="#1a1a1a" stroke-width="0.3">30</text>
<path d="M886.42 564.65V570.25M964.13 564.65V570.25M1041.84 564.65V570.25M1119.55 564.65V570.25" stroke="#1f1f1f" stroke-width="1.7" fill="none"/>
</g>
<g>
<clipPath id="cp14"><rect x="1141.42" y="398" width="255.57" height="166.65"/></clipPath>
<rect x="1141.42" y="398" width="255.57" height="166.65" fill="#fff"/>
<path d="M1191.41 398V564.65M1269.12 398V564.65M1346.84 398V564.65M1141.42 540.1H1396.99M1141.42 504.7H1396.99M1141.42 469.3H1396.99M1141.42 433.9H1396.99" stroke="#ececec" stroke-width="1.3" fill="none"/>
<path d="M1152.56 398V564.65M1230.27 398V564.65M1307.98 398V564.65M1385.69 398V564.65M1141.42 557.8H1396.99M1141.42 522.4H1396.99M1141.42 487H1396.99M1141.42 451.6H1396.99M1141.42 416.2H1396.99" stroke="#e1e1e1" stroke-width="1.7" fill="none"/>
<rect x="1141.42" y="398" width="255.57" height="166.65" fill="none" stroke="#fff" stroke-width="5" clip-path="url(#cp14)"/>
<g clip-path="url(#cp14)" fill="none" stroke="#fff" stroke-linejoin="round"><path d="M1156.45 557.8V487H1164.22V557.8ZM1164.22 557.8V534.2H1171.99V557.8ZM1171.99 557.8V487H1179.76V557.8ZM1179.76 557.8V534.2H1187.53V557.8ZM1218.61 557.8V534.2H1226.38V557.8ZM1226.38 557.8V534.2H1234.16V557.8Z" stroke-width="5.1"/><path d="M1152.56 557.8L1152.56 501.16L1153.18 500.19L1153.8 499.36L1154.74 498.41L1155.67 497.78L1156.29 497.55L1156.91 497.46L1157.53 497.51L1158.16 497.69L1158.78 497.98L1159.71 498.63L1160.33 499.19L1161.26 500.17L1162.2 501.31L1163.44 503L1168.72 510.83L1174.94 519.48L1177.74 523.66L1180.85 528.86L1185.82 537.91L1187.68 541.17L1189.55 544.17L1191.41 546.81L1192.66 548.34L1193.59 549.37L1194.52 550.29L1195.77 551.34L1196.7 552L1197.94 552.73L1199.19 553.29L1200.43 553.68L1202.29 554L1204.16 554.01L1206.02 553.73L1208.2 553.08L1210.07 552.27L1211.93 551.25L1213.8 550.09L1218.46 546.97L1220.01 546.04L1221.26 545.4L1222.81 544.75L1224.05 544.38L1225.3 544.17L1226.54 544.12L1227.78 544.23L1229.34 544.6L1230.58 545.06L1232.14 545.81L1233.38 546.54L1234.93 547.56L1239.91 551.13L1242.08 552.59L1244.26 553.88L1246.43 554.96L1248.92 555.92L1251.41 556.61L1253.89 557.08L1257 557.45L1260.42 557.65L1265.71 557.8L1385.69 557.8Z" stroke-width="9.5"/></g>
<path d="M1156.45 557.8V487H1164.22V557.8ZM1164.22 557.8V534.2H1171.99V557.8ZM1171.99 557.8V487H1179.76V557.8ZM1179.76 557.8V534.2H1187.53V557.8ZM1218.61 557.8V534.2H1226.38V557.8ZM1226.38 557.8V534.2H1234.16V557.8Z" fill="#e5e5e5" stroke="#000" stroke-width="1.5" stroke-linejoin="miter"/>
<path d="M1152.56 557.8L1152.56 501.16L1153.18 500.19L1153.8 499.36L1154.74 498.41L1155.67 497.78L1156.29 497.55L1156.91 497.46L1157.53 497.51L1158.16 497.69L1158.78 497.98L1159.71 498.63L1160.33 499.19L1161.26 500.17L1162.2 501.31L1163.44 503L1168.72 510.83L1174.94 519.48L1177.74 523.66L1180.85 528.86L1185.82 537.91L1187.68 541.17L1189.55 544.17L1191.41 546.81L1192.66 548.34L1193.59 549.37L1194.52 550.29L1195.77 551.34L1196.7 552L1197.94 552.73L1199.19 553.29L1200.43 553.68L1202.29 554L1204.16 554.01L1206.02 553.73L1208.2 553.08L1210.07 552.27L1211.93 551.25L1213.8 550.09L1218.46 546.97L1220.01 546.04L1221.26 545.4L1222.81 544.75L1224.05 544.38L1225.3 544.17L1226.54 544.12L1227.78 544.23L1229.34 544.6L1230.58 545.06L1232.14 545.81L1233.38 546.54L1234.93 547.56L1239.91 551.13L1242.08 552.59L1244.26 553.88L1246.43 554.96L1248.92 555.92L1251.41 556.61L1253.89 557.08L1257 557.45L1260.42 557.65L1265.71 557.8L1385.69 557.8Z" fill="none" stroke="#000" stroke-width="5.7" stroke-linejoin="round" stroke-linecap="round"/>
<rect x="1141.42" y="398" width="255.57" height="166.65" fill="none" stroke="#2b2b2b" stroke-width="1.4"/>
<rect x="1141.42" y="360.85" width="255.57" height="37.15" fill="#cdcdcd" stroke="#2b2b2b" stroke-width="1.4"/>
<text transform="translate(1268.9 389.25) scale(1 1.025)" text-anchor="middle" font-size="24.75" font-weight="bold" fill="#000">Broccoli</text>
<text transform="translate(1152.56 592.35) scale(1 1.025)" text-anchor="middle" font-size="24.7" fill="#1a1a1a" stroke="#1a1a1a" stroke-width="0.3">0</text>
<text transform="translate(1230.27 592.35) scale(1 1.025)" text-anchor="middle" font-size="24.7" fill="#1a1a1a" stroke="#1a1a1a" stroke-width="0.3">10</text>
<text transform="translate(1307.98 592.35) scale(1 1.025)" text-anchor="middle" font-size="24.7" fill="#1a1a1a" stroke="#1a1a1a" stroke-width="0.3">20</text>
<text transform="translate(1385.69 592.35) scale(1 1.025)" text-anchor="middle" font-size="24.7" fill="#1a1a1a" stroke="#1a1a1a" stroke-width="0.3">30</text>
<path d="M1152.56 564.65V570.25M1230.27 564.65V570.25M1307.98 564.65V570.25M1385.69 564.65V570.25" stroke="#1f1f1f" stroke-width="1.7" fill="none"/>
</g>
</g>
<g id="rowC">
<text transform="translate(11.1 671.1) scale(1 1.035)" font-size="36.6" font-weight="bold" fill="#000">C</text>
<text transform="translate(18.9 805.55) rotate(-90) scale(1 1.025)" text-anchor="middle" font-size="24.85" fill="#000" stroke="#000" stroke-width="0.3">density</text>
<text transform="translate(66.6 889.1) scale(1 1.025)" text-anchor="end" font-size="24.7" fill="#1a1a1a" stroke="#1a1a1a" stroke-width="0.3">0.0</text>
<line x1="71" x2="76.86" y1="880" y2="880" stroke="#1f1f1f" stroke-width="1.7"/>
<text transform="translate(66.6 837.6) scale(1 1.025)" text-anchor="end" font-size="24.7" fill="#1a1a1a" stroke="#1a1a1a" stroke-width="0.3">0.1</text>
<line x1="71" x2="76.86" y1="828.5" y2="828.5" stroke="#1f1f1f" stroke-width="1.7"/>
<text transform="translate(66.6 786.1) scale(1 1.025)" text-anchor="end" font-size="24.7" fill="#1a1a1a" stroke="#1a1a1a" stroke-width="0.3">0.2</text>
<line x1="71" x2="76.86" y1="777" y2="777" stroke="#1f1f1f" stroke-width="1.7"/>
<text transform="translate(66.6 734.6) scale(1 1.025)" text-anchor="end" font-size="24.7" fill="#1a1a1a" stroke="#1a1a1a" stroke-width="0.3">0.3</text>
<line x1="71" x2="76.86" y1="725.5" y2="725.5" stroke="#1f1f1f" stroke-width="1.7"/>
<text transform="translate(736.9 943.36) scale(1 1.025)" text-anchor="middle" font-size="25.0" fill="#000" stroke="#000" stroke-width="0.3">Total Number of Tillage Operations</text>
<g>
<clipPath id="cp20"><rect x="76.86" y="721" width="255.57" height="165.9"/></clipPath>
<rect x="76.86" y="721" width="255.57" height="165.9" fill="#fff"/>
<path d="M126.85 721V886.9M204.56 721V886.9M282.27 721V886.9M76.86 854.25H332.43M76.86 802.75H332.43M76.86 751.25H332.43" stroke="#ececec" stroke-width="1.3" fill="none"/>
<path d="M88 721V886.9M165.71 721V886.9M243.42 721V886.9M321.13 721V886.9M76.86 880H332.43M76.86 828.5H332.43M76.86 777H332.43M76.86 725.5H332.43" stroke="#e1e1e1" stroke-width="1.7" fill="none"/>
<rect x="76.86" y="721" width="255.57" height="165.9" fill="none" stroke="#fff" stroke-width="5" clip-path="url(#cp20)"/>
<g clip-path="url(#cp20)" fill="none" stroke="#fff" stroke-linejoin="round"><path d="M122.97 880V757.38H130.74V880ZM138.51 880V781.9H146.28V880ZM146.28 880V732.86H154.05V880ZM154.05 880V830.95H161.82V880ZM169.6 880V855.48H177.37V880ZM177.37 880V830.95H185.14V880ZM185.14 880V855.48H192.91V880Z" stroke-width="5.1"/><path d="M88 880L102.61 880L105.1 879.78L106.34 879.57L107.27 879.31L108.2 878.92L109.14 878.38L109.76 877.9L110.38 877.31L111 876.6L111.62 875.75L112.25 874.74L112.87 873.56L113.49 872.21L114.73 868.9L115.98 864.73L117.22 859.67L118.15 855.28L119.39 848.71L123.44 825.07L124.68 819.17L125.61 815.94L126.23 814.49L126.54 813.99L126.85 813.66L127.17 813.48L127.48 813.46L127.79 813.59L128.1 813.87L128.72 814.84L129.34 816.28L129.96 818.08L131.83 824.17L132.45 825.89L133.07 827.21L133.38 827.69L133.69 828.01L134 828.19L134.32 828.2L134.63 828.05L134.94 827.73L135.25 827.23L135.56 826.57L136.18 824.77L136.8 822.36L137.42 819.46L138.36 814.4L141.46 796.15L142.71 789.91L143.95 784.64L144.57 782.33L145.51 779.24L146.44 776.6L147.06 775.1L147.68 773.86L148.3 772.91L148.92 772.29L149.24 772.13L149.55 772.08L149.86 772.13L150.17 772.3L150.48 772.59L151.1 773.53L151.41 774.19L151.72 774.98L152.34 776.92L152.97 779.34L153.59 782.2L154.52 787.24L155.76 795.05L157.01 803.75L161.05 833.53L162.29 841.77L163.22 847.21L164.47 853.21L165.09 855.6L165.71 857.56L166.02 858.37L166.64 859.68L167.26 860.58L167.89 861.08L168.2 861.2L168.51 861.23L169.13 861.06L169.75 860.62L170.37 859.95L170.99 859.11L171.93 857.61L176.28 849.43L177.21 847.83L178.14 846.4L179.08 845.23L180.01 844.4L180.63 844.08L180.94 844L181.56 843.99L182.18 844.21L182.5 844.41L183.43 845.34L184.36 846.75L185.29 848.58L186.85 852.29L190.58 862.38L192.13 866.34L194 870.55L195.55 873.46L196.48 874.92L197.1 875.76L197.73 876.5L198.66 877.43L199.59 878.17L200.52 878.73L201.46 879.14L202.39 879.44L204.25 879.78L207.05 880L321.13 880Z" stroke-width="9.5"/></g>
<path d="M122.97 880V757.38H130.74V880ZM138.51 880V781.9H146.28V880ZM146.28 880V732.86H154.05V880ZM154.05 880V830.95H161.82V880ZM169.6 880V855.48H177.37V880ZM177.37 880V830.95H185.14V880ZM185.14 880V855.48H192.91V880Z" fill="#e5e5e5" stroke="#000" stroke-width="1.5" stroke-linejoin="miter"/>
<path d="M88 880L102.61 880L105.1 879.78L106.34 879.57L107.27 879.31L108.2 878.92L109.14 878.38L109.76 877.9L110.38 877.31L111 876.6L111.62 875.75L112.25 874.74L112.87 873.56L113.49 872.21L114.73 868.9L115.98 864.73L117.22 859.67L118.15 855.28L119.39 848.71L123.44 825.07L124.68 819.17L125.61 815.94L126.23 814.49L126.54 813.99L126.85 813.66L127.17 813.48L127.48 813.46L127.79 813.59L128.1 813.87L128.72 814.84L129.34 816.28L129.96 818.08L131.83 824.17L132.45 825.89L133.07 827.21L133.38 827.69L133.69 828.01L134 828.19L134.32 828.2L134.63 828.05L134.94 827.73L135.25 827.23L135.56 826.57L136.18 824.77L136.8 822.36L137.42 819.46L138.36 814.4L141.46 796.15L142.71 789.91L143.95 784.64L144.57 782.33L145.51 779.24L146.44 776.6L147.06 775.1L147.68 773.86L148.3 772.91L148.92 772.29L149.24 772.13L149.55 772.08L149.86 772.13L150.17 772.3L150.48 772.59L151.1 773.53L151.41 774.19L151.72 774.98L152.34 776.92L152.97 779.34L153.59 782.2L154.52 787.24L155.76 795.05L157.01 803.75L161.05 833.53L162.29 841.77L163.22 847.21L164.47 853.21L165.09 855.6L165.71 857.56L166.02 858.37L166.64 859.68L167.26 860.58L167.89 861.08L168.2 861.2L168.51 861.23L169.13 861.06L169.75 860.62L170.37 859.95L170.99 859.11L171.93 857.61L176.28 849.43L177.21 847.83L178.14 846.4L179.08 845.23L180.01 844.4L180.63 844.08L180.94 844L181.56 843.99L182.18 844.21L182.5 844.41L183.43 845.34L184.36 846.75L185.29 848.58L186.85 852.29L190.58 862.38L192.13 866.34L194 870.55L195.55 873.46L196.48 874.92L197.1 875.76L197.73 876.5L198.66 877.43L199.59 878.17L200.52 878.73L201.46 879.14L202.39 879.44L204.25 879.78L207.05 880L321.13 880Z" fill="none" stroke="#000" stroke-width="5.7" stroke-linejoin="round" stroke-linecap="round"/>
<rect x="76.86" y="721" width="255.57" height="165.9" fill="none" stroke="#2b2b2b" stroke-width="1.4"/>
<rect x="76.86" y="683.35" width="255.57" height="37.65" fill="#cdcdcd" stroke="#2b2b2b" stroke-width="1.4"/>
<text transform="translate(204.34 711.7) scale(1 1.025)" text-anchor="middle" font-size="24.75" font-weight="bold" fill="#000">Field Corn</text>
<text transform="translate(88 914.5) scale(1 1.025)" text-anchor="middle" font-size="24.7" fill="#1a1a1a" stroke="#1a1a1a" stroke-width="0.3">0</text>
<text transform="translate(165.71 914.5) scale(1 1.025)" text-anchor="middle" font-size="24.7" fill="#1a1a1a" stroke="#1a1a1a" stroke-width="0.3">10</text>
<text transform="translate(243.42 914.5) scale(1 1.025)" text-anchor="middle" font-size="24.7" fill="#1a1a1a" stroke="#1a1a1a" stroke-width="0.3">20</text>
<text transform="translate(321.13 914.5) scale(1 1.025)" text-anchor="middle" font-size="24.7" fill="#1a1a1a" stroke="#1a1a1a" stroke-width="0.3">30</text>
<path d="M88 886.9V892.5M165.71 886.9V892.5M243.42 886.9V892.5M321.13 886.9V892.5" stroke="#1f1f1f" stroke-width="1.7" fill="none"/>
</g>
<g>
<clipPath id="cp21"><rect x="343" y="721" width="255.57" height="165.9"/></clipPath>
<rect x="343" y="721" width="255.57" height="165.9" fill="#fff"/>
<path d="M393 721V886.9M470.7 721V886.9M548.41 721V886.9M343 854.25H598.57M343 802.75H598.57M343 751.25H598.57" stroke="#ececec" stroke-width="1.3" fill="none"/>
<path d="M354.14 721V886.9M431.85 721V886.9M509.56 721V886.9M587.27 721V886.9M343 880H598.57M343 828.5H598.57M343 777H598.57M343 725.5H598.57" stroke="#e1e1e1" stroke-width="1.7" fill="none"/>
<rect x="343" y="721" width="255.57" height="165.9" fill="none" stroke="#fff" stroke-width="5" clip-path="url(#cp21)"/>
<g clip-path="url(#cp21)" fill="none" stroke="#fff" stroke-linejoin="round"><path d="M404.65 880V806.43H412.42V880ZM412.42 880V732.86H420.19V880ZM420.19 880V732.86H427.96V880ZM427.96 880V806.43H435.74V880ZM443.51 880V806.43H451.28V880Z" stroke-width="5.1"/><path d="M354.14 880L387.09 880L390.51 879.71L391.75 879.46L392.68 879.17L393.62 878.73L394.55 878.11L395.48 877.23L396.1 876.47L397.04 875.02L397.66 873.79L398.59 871.52L399.21 869.67L400.14 866.34L400.77 863.72L402.01 857.47L402.63 853.82L403.56 847.7L404.81 838.44L406.05 828.13L410.09 791.45L411.65 777.98L413.2 765.81L414.44 757.35L415.69 750.32L416.31 747.43L416.93 745.02L417.55 743.12L418.17 741.78L418.48 741.33L418.79 741.03L419.11 740.89L419.42 740.91L419.73 741.09L420.04 741.44L420.66 742.64L420.97 743.48L421.59 745.67L422.52 750.11L423.46 755.82L424.39 762.55L428.43 795.94L429.36 802.92L430.3 809.2L431.23 814.72L432.47 820.9L433.72 825.95L435.27 831.05L436.82 835.29L437.76 837.52L438.69 839.54L439.62 841.31L440.24 842.32L441.18 843.56L441.8 844.17L442.42 844.6L443.04 844.84L443.66 844.91L444.28 844.82L444.91 844.59L445.53 844.24L448.01 842.59L448.64 842.33L449.26 842.22L449.88 842.29L450.19 842.41L450.81 842.81L451.43 843.45L452.05 844.33L452.68 845.46L453.3 846.82L454.54 850.12L455.78 854.01L458.89 864.32L460.14 867.98L461.07 870.4L462 872.48L463.24 874.75L464.49 876.47L465.73 877.71L466.35 878.19L467.29 878.74L468.84 879.34L469.77 879.57L471.02 879.76L474.12 880L587.27 880Z" stroke-width="9.5"/></g>
<path d="M404.65 880V806.43H412.42V880ZM412.42 880V732.86H420.19V880ZM420.19 880V732.86H427.96V880ZM427.96 880V806.43H435.74V880ZM443.51 880V806.43H451.28V880Z" fill="#e5e5e5" stroke="#000" stroke-width="1.5" stroke-linejoin="miter"/>
<path d="M354.14 880L387.09 880L390.51 879.71L391.75 879.46L392.68 879.17L393.62 878.73L394.55 878.11L395.48 877.23L396.1 876.47L397.04 875.02L397.66 873.79L398.59 871.52L399.21 869.67L400.14 866.34L400.77 863.72L402.01 857.47L402.63 853.82L403.56 847.7L404.81 838.44L406.05 828.13L410.09 791.45L411.65 777.98L413.2 765.81L414.44 757.35L415.69 750.32L416.31 747.43L416.93 745.02L417.55 743.12L418.17 741.78L418.48 741.33L418.79 741.03L419.11 740.89L419.42 740.91L419.73 741.09L420.04 741.44L420.66 742.64L420.97 743.48L421.59 745.67L422.52 750.11L423.46 755.82L424.39 762.55L428.43 795.94L429.36 802.92L430.3 809.2L431.23 814.72L432.47 820.9L433.72 825.95L435.27 831.05L436.82 835.29L437.76 837.52L438.69 839.54L439.62 841.31L440.24 842.32L441.18 843.56L441.8 844.17L442.42 844.6L443.04 844.84L443.66 844.91L444.28 844.82L444.91 844.59L445.53 844.24L448.01 842.59L448.64 842.33L449.26 842.22L449.88 842.29L450.19 842.41L450.81 842.81L451.43 843.45L452.05 844.33L452.68 845.46L453.3 846.82L454.54 850.12L455.78 854.01L458.89 864.32L460.14 867.98L461.07 870.4L462 872.48L463.24 874.75L464.49 876.47L465.73 877.71L466.35 878.19L467.29 878.74L468.84 879.34L469.77 879.57L471.02 879.76L474.12 880L587.27 880Z" fill="none" stroke="#000" stroke-width="5.7" stroke-linejoin="round" stroke-linecap="round"/>
<rect x="343" y="721" width="255.57" height="165.9" fill="none" stroke="#2b2b2b" stroke-width="1.4"/>
<rect x="343" y="683.35" width="255.57" height="37.65" fill="#cdcdcd" stroke="#2b2b2b" stroke-width="1.4"/>
<text transform="translate(470.48 711.7) scale(1 1.025)" text-anchor="middle" font-size="24.75" font-weight="bold" fill="#000">Dry Bean</text>
<text transform="translate(354.14 914.5) scale(1 1.025)" text-anchor="middle" font-size="24.7" fill="#1a1a1a" stroke="#1a1a1a" stroke-width="0.3">0</text>
<text transform="translate(431.85 914.5) scale(1 1.025)" text-anchor="middle" font-size="24.7" fill="#1a1a1a" stroke="#1a1a1a" stroke-width="0.3">10</text>
<text transform="translate(509.56 914.5) scale(1 1.025)" text-anchor="middle" font-size="24.7" fill="#1a1a1a" stroke="#1a1a1a" stroke-width="0.3">20</text>
<text transform="translate(587.27 914.5) scale(1 1.025)" text-anchor="middle" font-size="24.7" fill="#1a1a1a" stroke="#1a1a1a" stroke-width="0.3">30</text>
<path d="M354.14 886.9V892.5M431.85 886.9V892.5M509.56 886.9V892.5M587.27 886.9V892.5" stroke="#1f1f1f" stroke-width="1.7" fill="none"/>
</g>
<g>
<clipPath id="cp22"><rect x="609.14" y="721" width="255.57" height="165.9"/></clipPath>
<rect x="609.14" y="721" width="255.57" height="165.9" fill="#fff"/>
<path d="M659.13 721V886.9M736.85 721V886.9M814.55 721V886.9M609.14 854.25H864.71M609.14 802.75H864.71M609.14 751.25H864.71" stroke="#ececec" stroke-width="1.3" fill="none"/>
<path d="M620.28 721V886.9M697.99 721V886.9M775.7 721V886.9M853.41 721V886.9M609.14 880H864.71M609.14 828.5H864.71M609.14 777H864.71M609.14 725.5H864.71" stroke="#e1e1e1" stroke-width="1.7" fill="none"/>
<rect x="609.14" y="721" width="255.57" height="165.9" fill="none" stroke="#fff" stroke-width="5" clip-path="url(#cp22)"/>
<g clip-path="url(#cp22)" fill="none" stroke="#fff" stroke-linejoin="round"><path d="M655.25 880V849.71H663.02V880ZM670.79 880V789.12H678.56V880ZM678.56 880V789.12H686.33V880ZM686.33 880V728.53H694.1V880ZM694.1 880V789.12H701.88V880ZM709.65 880V849.71H717.42V880ZM740.73 880V849.71H748.5V880Z" stroke-width="5.1"/><path d="M620.28 880L635.51 880L638.31 879.83L640.17 879.62L641.73 879.31L643.28 878.8L644.53 878.21L645.46 877.64L646.39 876.94L647.32 876.11L648.26 875.14L650.12 872.84L654.16 867.05L655.72 865.03L656.65 863.96L657.58 863.02L660.69 860.4L661.62 859.52L662.87 858.04L663.8 856.58L664.42 855.39L665.04 854L665.97 851.54L667.22 847.53L668.46 842.75L669.7 837.38L672.81 823.11L674.37 816.44L675.92 810.35L679.03 798.93L680.89 791.31L682.45 784.02L685.87 766.45L686.8 762.12L687.42 759.57L688.35 756.4L688.98 754.81L689.6 753.71L689.91 753.36L690.22 753.13L690.53 753.05L690.84 753.1L691.15 753.3L691.46 753.65L692.08 754.77L692.71 756.46L693.64 760.04L694.26 763.08L694.88 766.59L695.81 772.66L697.06 781.94L701.1 815.7L702.96 829.77L703.9 835.86L704.83 841.18L705.76 845.72L706.69 849.48L707.63 852.52L708.56 854.91L709.49 856.77L710.42 858.21L711.67 859.71L714.46 862.51L715.71 863.9L717.26 865.88L720.68 870.74L721.92 872.39L723.48 874.19L725.03 875.58L725.97 876.19L726.59 876.51L727.52 876.86L728.45 877.04L729.07 877.07L730.01 876.98L730.94 876.73L731.87 876.33L732.49 875.98L733.43 875.32L734.98 873.92L736.53 872.21L739.64 868.5L741.2 866.94L742.13 866.24L742.75 865.89L743.68 865.58L744.31 865.52L744.93 865.58L745.86 865.9L746.79 866.47L747.72 867.26L749.28 868.96L752.39 872.94L753.63 874.44L755.18 876.07L756.43 877.13L757.98 878.16L759.54 878.88L761.09 879.35L762.96 879.69L767 880L853.41 880Z" stroke-width="9.5"/></g>
<path d="M655.25 880V849.71H663.02V880ZM670.79 880V789.12H678.56V880ZM678.56 880V789.12H686.33V880ZM686.33 880V728.53H694.1V880ZM694.1 880V789.12H701.88V880ZM709.65 880V849.71H717.42V880ZM740.73 880V849.71H748.5V880Z" fill="#e5e5e5" stroke="#000" stroke-width="1.5" stroke-linejoin="miter"/>
<path d="M620.28 880L635.51 880L638.31 879.83L640.17 879.62L641.73 879.31L643.28 878.8L644.53 878.21L645.46 877.64L646.39 876.94L647.32 876.11L648.26 875.14L650.12 872.84L654.16 867.05L655.72 865.03L656.65 863.96L657.58 863.02L660.69 860.4L661.62 859.52L662.87 858.04L663.8 856.58L664.42 855.39L665.04 854L665.97 851.54L667.22 847.53L668.46 842.75L669.7 837.38L672.81 823.11L674.37 816.44L675.92 810.35L679.03 798.93L680.89 791.31L682.45 784.02L685.87 766.45L686.8 762.12L687.42 759.57L688.35 756.4L688.98 754.81L689.6 753.71L689.91 753.36L690.22 753.13L690.53 753.05L690.84 753.1L691.15 753.3L691.46 753.65L692.08 754.77L692.71 756.46L693.64 760.04L694.26 763.08L694.88 766.59L695.81 772.66L697.06 781.94L701.1 815.7L702.96 829.77L703.9 835.86L704.83 841.18L705.76 845.72L706.69 849.48L707.63 852.52L708.56 854.91L709.49 856.77L710.42 858.21L711.67 859.71L714.46 862.51L715.71 863.9L717.26 865.88L720.68 870.74L721.92 872.39L723.48 874.19L725.03 875.58L725.97 876.19L726.59 876.51L727.52 876.86L728.45 877.04L729.07 877.07L730.01 876.98L730.94 876.73L731.87 876.33L732.49 875.98L733.43 875.32L734.98 873.92L736.53 872.21L739.64 868.5L741.2 866.94L742.13 866.24L742.75 865.89L743.68 865.58L744.31 865.52L744.93 865.58L745.86 865.9L746.79 866.47L747.72 867.26L749.28 868.96L752.39 872.94L753.63 874.44L755.18 876.07L756.43 877.13L757.98 878.16L759.54 878.88L761.09 879.35L762.96 879.69L767 880L853.41 880Z" fill="none" stroke="#000" stroke-width="5.7" stroke-linejoin="round" stroke-linecap="round"/>
<rect x="609.14" y="721" width="255.57" height="165.9" fill="none" stroke="#2b2b2b" stroke-width="1.4"/>
<rect x="609.14" y="683.35" width="255.57" height="37.65" fill="#cdcdcd" stroke="#2b2b2b" stroke-width="1.4"/>
<text transform="translate(736.62 711.7) scale(1 1.025)" text-anchor="middle" font-size="24.75" font-weight="bold" fill="#000">Soybean</text>
<text transform="translate(620.28 914.5) scale(1 1.025)" text-anchor="middle" font-size="24.7" fill="#1a1a1a" stroke="#1a1a1a" stroke-width="0.3">0</text>
<text transform="translate(697.99 914.5) scale(1 1.025)" text-anchor="middle" font-size="24.7" fill="#1a1a1a" stroke="#1a1a1a" stroke-width="0.3">10</text>
<text transform="translate(775.7 914.5) scale(1 1.025)" text-anchor="middle" font-size="24.7" fill="#1a1a1a" stroke="#1a1a1a" stroke-width="0.3">20</text>
<text transform="translate(853.41 914.5) scale(1 1.025)" text-anchor="middle" font-size="24.7" fill="#1a1a1a" stroke="#1a1a1a" stroke-width="0.3">30</text>
<path d="M620.28 886.9V892.5M697.99 886.9V892.5M775.7 886.9V892.5M853.41 886.9V892.5" stroke="#1f1f1f" stroke-width="1.7" fill="none"/>
</g>
<g>
<clipPath id="cp23"><rect x="875.28" y="721" width="255.57" height="165.9"/></clipPath>
<rect x="875.28" y="721" width="255.57" height="165.9" fill="#fff"/>
<path d="M925.27 721V886.9M1002.98 721V886.9M1080.69 721V886.9M875.28 854.25H1130.85M875.28 802.75H1130.85M875.28 751.25H1130.85" stroke="#ececec" stroke-width="1.3" fill="none"/>
<path d="M886.42 721V886.9M964.13 721V886.9M1041.84 721V886.9M1119.55 721V886.9M875.28 880H1130.85M875.28 828.5H1130.85M875.28 777H1130.85M875.28 725.5H1130.85" stroke="#e1e1e1" stroke-width="1.7" fill="none"/>
<rect x="875.28" y="721" width="255.57" height="165.9" fill="none" stroke="#fff" stroke-width="5" clip-path="url(#cp23)"/>
<g clip-path="url(#cp23)" fill="none" stroke="#fff" stroke-linejoin="round"><path d="M898.08 880V858.54H905.85V880ZM905.85 880V815.62H913.62V880ZM913.62 880V772.71H921.39V880ZM921.39 880V815.62H929.16V880ZM929.16 880V858.54H936.93V880ZM936.93 880V837.08H944.7V880ZM944.7 880V815.62H952.47V880ZM952.47 880V837.08H960.24V880ZM968.02 880V858.54H975.79V880ZM975.79 880V837.08H983.56V880ZM991.33 880V858.54H999.1V880Z" stroke-width="5.1"/><path d="M886.42 880L886.42 873.82L887.66 872.57L888.6 871.52L890.46 869.12L892.33 866.29L894.5 862.48L896.37 858.8L898.23 854.82L905.69 837.85L907.56 833.98L909.11 831.06L910.67 828.49L911.91 826.72L913.15 825.21L914.4 823.99L915.64 823.05L916.88 822.4L918.13 822.03L919.37 821.93L920.61 822.07L921.86 822.43L923.1 822.99L924.34 823.71L926.83 825.51L931.49 829.4L933.36 830.88L935.53 832.42L937.4 833.55L938.95 834.37L940.51 835.08L945.79 837.18L947.66 837.99L949.83 839.11L951.7 840.25L953.56 841.56L955.74 843.3L962.26 849.13L965.06 851.49L967.86 853.57L970.97 855.53L974.7 857.51L982.47 861.16L986.82 863.31L991.17 865.59L1001.12 870.94L1005.78 873.31L1008.58 874.61L1011.07 875.64L1013.55 876.55L1015.73 877.23L1017.91 877.81L1020.08 878.29L1022.26 878.68L1024.74 879.03L1027.54 879.32L1030.34 879.53L1037.18 879.83L1044.33 879.95L1044.64 880L1119.55 880Z" stroke-width="9.5"/></g>
<path d="M898.08 880V858.54H905.85V880ZM905.85 880V815.62H913.62V880ZM913.62 880V772.71H921.39V880ZM921.39 880V815.62H929.16V880ZM929.16 880V858.54H936.93V880ZM936.93 880V837.08H944.7V880ZM944.7 880V815.62H952.47V880ZM952.47 880V837.08H960.24V880ZM968.02 880V858.54H975.79V880ZM975.79 880V837.08H983.56V880ZM991.33 880V858.54H999.1V880Z" fill="#e5e5e5" stroke="#000" stroke-width="1.5" stroke-linejoin="miter"/>
<path d="M886.42 880L886.42 873.82L887.66 872.57L888.6 871.52L890.46 869.12L892.33 866.29L894.5 862.48L896.37 858.8L898.23 854.82L905.69 837.85L907.56 833.98L909.11 831.06L910.67 828.49L911.91 826.72L913.15 825.21L914.4 823.99L915.64 823.05L916.88 822.4L918.13 822.03L919.37 821.93L920.61 822.07L921.86 822.43L923.1 822.99L924.34 823.71L926.83 825.51L931.49 829.4L933.36 830.88L935.53 832.42L937.4 833.55L938.95 834.37L940.51 835.08L945.79 837.18L947.66 837.99L949.83 839.11L951.7 840.25L953.56 841.56L955.74 843.3L962.26 849.13L965.06 851.49L967.86 853.57L970.97 855.53L974.7 857.51L982.47 861.16L986.82 863.31L991.17 865.59L1001.12 870.94L1005.78 873.31L1008.58 874.61L1011.07 875.64L1013.55 876.55L1015.73 877.23L1017.91 877.81L1020.08 878.29L1022.26 878.68L1024.74 879.03L1027.54 879.32L1030.34 879.53L1037.18 879.83L1044.33 879.95L1044.64 880L1119.55 880Z" fill="none" stroke="#000" stroke-width="5.7" stroke-linejoin="round" stroke-linecap="round"/>
<rect x="875.28" y="721" width="255.57" height="165.9" fill="none" stroke="#2b2b2b" stroke-width="1.4"/>
<rect x="875.28" y="683.35" width="255.57" height="37.65" fill="#cdcdcd" stroke="#2b2b2b" stroke-width="1.4"/>
<text transform="translate(1002.76 711.7) scale(1 1.025)" text-anchor="middle" font-size="24.75" font-weight="bold" fill="#000">Winter Squash</text>
<text transform="translate(886.42 914.5) scale(1 1.025)" text-anchor="middle" font-size="24.7" fill="#1a1a1a" stroke="#1a1a1a" stroke-width="0.3">0</text>
<text transform="translate(964.13 914.5) scale(1 1.025)" text-anchor="middle" font-size="24.7" fill="#1a1a1a" stroke="#1a1a1a" stroke-width="0.3">10</text>
<text transform="translate(1041.84 914.5) scale(1 1.025)" text-anchor="middle" font-size="24.7" fill="#1a1a1a" stroke="#1a1a1a" stroke-width="0.3">20</text>
<text transform="translate(1119.55 914.5) scale(1 1.025)" text-anchor="middle" font-size="24.7" fill="#1a1a1a" stroke="#1a1a1a" stroke-width="0.3">30</text>
<path d="M886.42 886.9V892.5M964.13 886.9V892.5M1041.84 886.9V892.5M1119.55 886.9V892.5" stroke="#1f1f1f" stroke-width="1.7" fill="none"/>
</g>
<g>
<clipPath id="cp24"><rect x="1141.42" y="721" width="255.57" height="165.9"/></clipPath>
<rect x="1141.42" y="721" width="255.57" height="165.9" fill="#fff"/>
<path d="M1191.41 721V886.9M1269.12 721V886.9M1346.84 721V886.9M1141.42 854.25H1396.99M1141.42 802.75H1396.99M1141.42 751.25H1396.99" stroke="#ececec" stroke-width="1.3" fill="none"/>
<path d="M1152.56 721V886.9M1230.27 721V886.9M1307.98 721V886.9M1385.69 721V886.9M1141.42 880H1396.99M1141.42 828.5H1396.99M1141.42 777H1396.99M1141.42 725.5H1396.99" stroke="#e1e1e1" stroke-width="1.7" fill="none"/>
<rect x="1141.42" y="721" width="255.57" height="165.9" fill="none" stroke="#fff" stroke-width="5" clip-path="url(#cp24)"/>
<g clip-path="url(#cp24)" fill="none" stroke="#fff" stroke-linejoin="round"><path d="M1164.22 880V845.67H1171.99V880ZM1171.99 880V742.67H1179.76V880ZM1187.53 880V845.67H1195.3V880ZM1195.3 880V845.67H1203.07V880ZM1203.07 880V845.67H1210.84V880ZM1210.84 880V845.67H1218.61V880ZM1218.61 880V845.67H1226.38V880ZM1226.38 880V845.67H1234.16V880ZM1234.16 880V845.67H1241.93V880ZM1241.93 880V811.33H1249.7V880Z" stroke-width="5.1"/><path d="M1152.56 880L1152.56 862.11L1155.05 858.79L1160.02 851.93L1162.51 848.66L1164.99 845.67L1166.24 844.32L1167.48 843.1L1168.72 841.99L1169.97 841.03L1171.21 840.21L1172.45 839.53L1173.7 839.01L1174.94 838.63L1176.18 838.39L1177.74 838.29L1178.67 838.31L1179.91 838.45L1181.16 838.68L1182.4 839L1184.89 839.82L1190.48 842.02L1192.97 842.9L1196.08 843.77L1198.88 844.3L1201.67 844.58L1205.09 844.67L1208.2 844.59L1217.84 844.11L1220.94 844.07L1223.74 844.15L1226.54 844.38L1229.34 844.82L1231.82 845.43L1234 846.18L1236.49 847.29L1238.66 848.51L1240.84 849.97L1243.33 851.9L1245.5 853.79L1247.68 855.84L1255.45 863.69L1258.56 866.69L1261.98 869.68L1265.08 872.04L1266.64 873.07L1268.5 874.18L1270.37 875.16L1272.23 876L1274.1 876.72L1275.96 877.34L1277.83 877.85L1280 878.34L1282.18 878.72L1284.36 879.03L1289.64 879.51L1295.55 879.78L1305.18 879.95L1305.49 880L1385.69 880Z" stroke-width="9.5"/></g>
<path d="M1164.22 880V845.67H1171.99V880ZM1171.99 880V742.67H1179.76V880ZM1187.53 880V845.67H1195.3V880ZM1195.3 880V845.67H1203.07V880ZM1203.07 880V845.67H1210.84V880ZM1210.84 880V845.67H1218.61V880ZM1218.61 880V845.67H1226.38V880ZM1226.38 880V845.67H1234.16V880ZM1234.16 880V845.67H1241.93V880ZM1241.93 880V811.33H1249.7V880Z" fill="#e5e5e5" stroke="#000" stroke-width="1.5" stroke-linejoin="miter"/>
<path d="M1152.56 880L1152.56 862.11L1155.05 858.79L1160.02 851.93L1162.51 848.66L1164.99 845.67L1166.24 844.32L1167.48 843.1L1168.72 841.99L1169.97 841.03L1171.21 840.21L1172.45 839.53L1173.7 839.01L1174.94 838.63L1176.18 838.39L1177.74 838.29L1178.67 838.31L1179.91 838.45L1181.16 838.68L1182.4 839L1184.89 839.82L1190.48 842.02L1192.97 842.9L1196.08 843.77L1198.88 844.3L1201.67 844.58L1205.09 844.67L1208.2 844.59L1217.84 844.11L1220.94 844.07L1223.74 844.15L1226.54 844.38L1229.34 844.82L1231.82 845.43L1234 846.18L1236.49 847.29L1238.66 848.51L1240.84 849.97L1243.33 851.9L1245.5 853.79L1247.68 855.84L1255.45 863.69L1258.56 866.69L1261.98 869.68L1265.08 872.04L1266.64 873.07L1268.5 874.18L1270.37 875.16L1272.23 876L1274.1 876.72L1275.96 877.34L1277.83 877.85L1280 878.34L1282.18 878.72L1284.36 879.03L1289.64 879.51L1295.55 879.78L1305.18 879.95L1305.49 880L1385.69 880Z" fill="none" stroke="#000" stroke-width="5.7" stroke-linejoin="round" stroke-linecap="round"/>
<rect x="1141.42" y="721" width="255.57" height="165.9" fill="none" stroke="#2b2b2b" stroke-width="1.4"/>
<rect x="1141.42" y="683.35" width="255.57" height="37.65" fill="#cdcdcd" stroke="#2b2b2b" stroke-width="1.4"/>
<text transform="translate(1268.9 711.7) scale(1 1.025)" text-anchor="middle" font-size="24.75" font-weight="bold" fill="#000">Broccoli</text>
<text transform="translate(1152.56 914.5) scale(1 1.025)" text-anchor="middle" font-size="24.7" fill="#1a1a1a" stroke="#1a1a1a" stroke-width="0.3">0</text>
<text transform="translate(1230.27 914.5) scale(1 1.025)" text-anchor="middle" font-size="24.7" fill="#1a1a1a" stroke="#1a1a1a" stroke-width="0.3">10</text>
<text transform="translate(1307.98 914.5) scale(1 1.025)" text-anchor="middle" font-size="24.7" fill="#1a1a1a" stroke="#1a1a1a" stroke-width="0.3">20</text>
<text transform="translate(1385.69 914.5) scale(1 1.025)" text-anchor="middle" font-size="24.7" fill="#1a1a1a" stroke="#1a1a1a" stroke-width="0.3">30</text>
<path d="M1152.56 886.9V892.5M1230.27 886.9V892.5M1307.98 886.9V892.5M1385.69 886.9V892.5" stroke="#1f1f1f" stroke-width="1.7" fill="none"/>
</g>
</g>
</svg>
</body>
</html>
